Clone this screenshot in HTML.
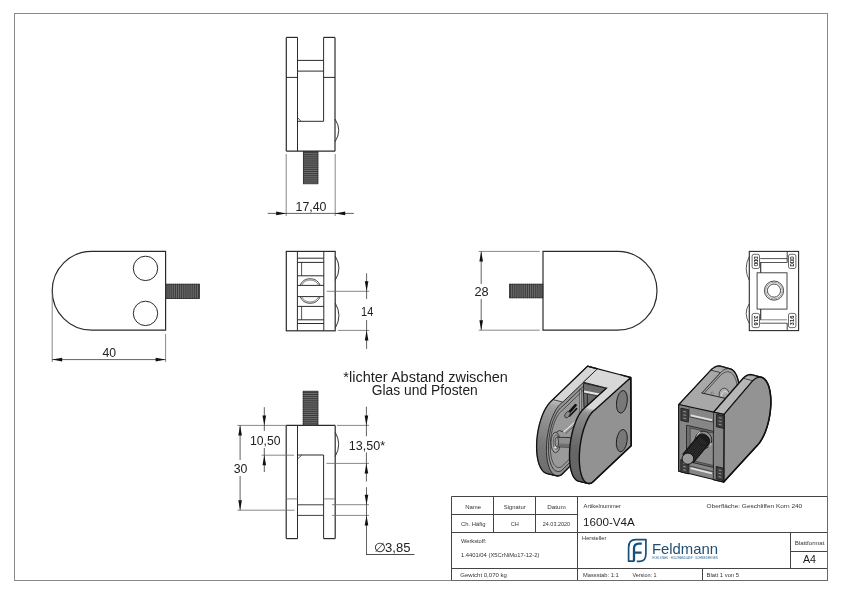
<!DOCTYPE html>
<html><head><meta charset="utf-8"><style>
html,body{margin:0;padding:0;background:#fff;width:842px;height:595px;overflow:hidden}
svg{display:block;will-change:transform}
text{font-family:"Liberation Sans",sans-serif}
</style></head><body>
<svg width="842" height="595" viewBox="0 0 842 595">
<rect x="14.5" y="13.5" width="813" height="567" fill="none" stroke="#8a8a8a" stroke-width="1"/>
<line x1="286.3" y1="37.4" x2="286.3" y2="151.2" stroke="#2a2a2a" stroke-width="1.2" />
<line x1="335.0" y1="37.4" x2="335.0" y2="151.2" stroke="#2a2a2a" stroke-width="1.2" />
<line x1="297.5" y1="37.4" x2="297.5" y2="151.2" stroke="#2a2a2a" stroke-width="1.0" />
<line x1="323.6" y1="37.4" x2="323.6" y2="121.3" stroke="#2a2a2a" stroke-width="1.0" />
<line x1="286.3" y1="37.4" x2="297.5" y2="37.4" stroke="#2a2a2a" stroke-width="1.2" />
<line x1="323.6" y1="37.4" x2="335.0" y2="37.4" stroke="#2a2a2a" stroke-width="1.2" />
<line x1="297.5" y1="60.4" x2="323.6" y2="60.4" stroke="#2a2a2a" stroke-width="1.0" />
<line x1="297.5" y1="71.1" x2="323.6" y2="71.1" stroke="#2a2a2a" stroke-width="1.0" />
<line x1="286.3" y1="77.4" x2="297.5" y2="77.4" stroke="#2a2a2a" stroke-width="1.0" />
<line x1="323.6" y1="77.4" x2="335.0" y2="77.4" stroke="#2a2a2a" stroke-width="1.0" />
<line x1="297.5" y1="121.3" x2="323.6" y2="121.3" stroke="#2a2a2a" stroke-width="1.0" />
<line x1="297.5" y1="117.5" x2="301.0" y2="121.3" stroke="#2a2a2a" stroke-width="0.8" />
<line x1="286.3" y1="151.2" x2="335.0" y2="151.2" stroke="#2a2a2a" stroke-width="1.2" />
<path d="M335.0,119 Q342.5,130.4 335.0,141.8" fill="none" stroke="#333" stroke-width="1.0" />
<rect x="303.4" y="151.4" width="14.5" height="32.400000000000006" fill="#6c6c6c" stroke="#2a2a2a" stroke-width="0.8"/>
<line x1="302.9" y1="152.6" x2="318.4" y2="152.6" stroke="#262626" stroke-width="0.7" />
<line x1="302.9" y1="154.7" x2="318.4" y2="154.7" stroke="#262626" stroke-width="0.7" />
<line x1="302.9" y1="156.8" x2="318.4" y2="156.8" stroke="#262626" stroke-width="0.7" />
<line x1="302.9" y1="158.9" x2="318.4" y2="158.9" stroke="#262626" stroke-width="0.7" />
<line x1="302.9" y1="161.0" x2="318.4" y2="161.0" stroke="#262626" stroke-width="0.7" />
<line x1="302.9" y1="163.1" x2="318.4" y2="163.1" stroke="#262626" stroke-width="0.7" />
<line x1="302.9" y1="165.2" x2="318.4" y2="165.2" stroke="#262626" stroke-width="0.7" />
<line x1="302.9" y1="167.3" x2="318.4" y2="167.3" stroke="#262626" stroke-width="0.7" />
<line x1="302.9" y1="169.4" x2="318.4" y2="169.4" stroke="#262626" stroke-width="0.7" />
<line x1="302.9" y1="171.5" x2="318.4" y2="171.5" stroke="#262626" stroke-width="0.7" />
<line x1="302.9" y1="173.6" x2="318.4" y2="173.6" stroke="#262626" stroke-width="0.7" />
<line x1="302.9" y1="175.7" x2="318.4" y2="175.7" stroke="#262626" stroke-width="0.7" />
<line x1="302.9" y1="177.8" x2="318.4" y2="177.8" stroke="#262626" stroke-width="0.7" />
<line x1="302.9" y1="179.9" x2="318.4" y2="179.9" stroke="#262626" stroke-width="0.7" />
<line x1="302.9" y1="182.0" x2="318.4" y2="182.0" stroke="#262626" stroke-width="0.7" />
<line x1="286.2" y1="154" x2="286.2" y2="216" stroke="#6a6a6a" stroke-width="0.8" />
<line x1="335.2" y1="154" x2="335.2" y2="216" stroke="#6a6a6a" stroke-width="0.8" />
<line x1="267.7" y1="213.4" x2="353.8" y2="213.4" stroke="#3a3a3a" stroke-width="0.8" />
<polygon points="286.20,213.40 276.20,211.60 276.20,215.20" fill="#111" stroke="none" stroke-width="0"/>
<polygon points="335.20,213.40 345.20,211.60 345.20,215.20" fill="#111" stroke="none" stroke-width="0"/>
<text x="311" y="211" font-size="13" text-anchor="middle" fill="#222" textLength="31" lengthAdjust="spacingAndGlyphs" >17,40</text>
<path d="M91.6,251.4 L165.6,251.4 L165.6,330.2 L91.6,330.2 A39.4,39.4 0 0 1 91.6,251.4 Z" fill="none" stroke="#2a2a2a" stroke-width="1.2" />
<circle cx="145.5" cy="268.4" r="12.2" fill="none" stroke="#2a2a2a" stroke-width="1"/>
<circle cx="145.5" cy="313.4" r="12.2" fill="none" stroke="#2a2a2a" stroke-width="1"/>
<rect x="165.8" y="284.2" width="33.69999999999999" height="14.300000000000011" fill="#6c6c6c" stroke="#2a2a2a" stroke-width="0.8"/>
<line x1="167.0" y1="283.7" x2="167.0" y2="299.0" stroke="#262626" stroke-width="0.7" />
<line x1="169.1" y1="283.7" x2="169.1" y2="299.0" stroke="#262626" stroke-width="0.7" />
<line x1="171.2" y1="283.7" x2="171.2" y2="299.0" stroke="#262626" stroke-width="0.7" />
<line x1="173.3" y1="283.7" x2="173.3" y2="299.0" stroke="#262626" stroke-width="0.7" />
<line x1="175.4" y1="283.7" x2="175.4" y2="299.0" stroke="#262626" stroke-width="0.7" />
<line x1="177.5" y1="283.7" x2="177.5" y2="299.0" stroke="#262626" stroke-width="0.7" />
<line x1="179.6" y1="283.7" x2="179.6" y2="299.0" stroke="#262626" stroke-width="0.7" />
<line x1="181.7" y1="283.7" x2="181.7" y2="299.0" stroke="#262626" stroke-width="0.7" />
<line x1="183.8" y1="283.7" x2="183.8" y2="299.0" stroke="#262626" stroke-width="0.7" />
<line x1="185.9" y1="283.7" x2="185.9" y2="299.0" stroke="#262626" stroke-width="0.7" />
<line x1="188.0" y1="283.7" x2="188.0" y2="299.0" stroke="#262626" stroke-width="0.7" />
<line x1="190.1" y1="283.7" x2="190.1" y2="299.0" stroke="#262626" stroke-width="0.7" />
<line x1="192.2" y1="283.7" x2="192.2" y2="299.0" stroke="#262626" stroke-width="0.7" />
<line x1="194.3" y1="283.7" x2="194.3" y2="299.0" stroke="#262626" stroke-width="0.7" />
<line x1="196.4" y1="283.7" x2="196.4" y2="299.0" stroke="#262626" stroke-width="0.7" />
<line x1="198.5" y1="283.7" x2="198.5" y2="299.0" stroke="#262626" stroke-width="0.7" />
<line x1="52.2" y1="293" x2="52.2" y2="362" stroke="#6a6a6a" stroke-width="0.8" />
<line x1="165.6" y1="334" x2="165.6" y2="362" stroke="#6a6a6a" stroke-width="0.8" />
<line x1="52.2" y1="359.6" x2="165.6" y2="359.6" stroke="#3a3a3a" stroke-width="0.8" />
<polygon points="52.20,359.60 62.20,357.80 62.20,361.40" fill="#111" stroke="none" stroke-width="0"/>
<polygon points="165.60,359.60 155.60,357.80 155.60,361.40" fill="#111" stroke="none" stroke-width="0"/>
<text x="109.2" y="356.6" font-size="12.5" text-anchor="middle" fill="#222" textLength="13.6" lengthAdjust="spacingAndGlyphs" >40</text>
<rect x="286.3" y="251.4" width="48.89999999999998" height="79.4" fill="none" stroke="#2a2a2a" stroke-width="1.2"/>
<line x1="297.4" y1="251.4" x2="297.4" y2="330.8" stroke="#2a2a2a" stroke-width="1.0" />
<line x1="323.8" y1="251.4" x2="323.8" y2="330.8" stroke="#2a2a2a" stroke-width="1.0" />
<line x1="297.4" y1="258.2" x2="323.8" y2="258.2" stroke="#2a2a2a" stroke-width="1.0" />
<line x1="297.4" y1="262.4" x2="323.8" y2="262.4" stroke="#2a2a2a" stroke-width="1.0" />
<line x1="297.4" y1="275.8" x2="323.8" y2="275.8" stroke="#2a2a2a" stroke-width="1.0" />
<line x1="297.4" y1="285.4" x2="323.8" y2="285.4" stroke="#2a2a2a" stroke-width="1.0" />
<line x1="297.4" y1="296.6" x2="323.8" y2="296.6" stroke="#2a2a2a" stroke-width="1.0" />
<line x1="297.4" y1="306.4" x2="323.8" y2="306.4" stroke="#2a2a2a" stroke-width="1.0" />
<line x1="297.4" y1="319.8" x2="323.8" y2="319.8" stroke="#2a2a2a" stroke-width="1.0" />
<line x1="297.4" y1="323.5" x2="323.8" y2="323.5" stroke="#2a2a2a" stroke-width="1.0" />
<line x1="301.6" y1="262.4" x2="301.6" y2="275.8" stroke="#2a2a2a" stroke-width="0.8" />
<line x1="301.6" y1="306.4" x2="301.6" y2="319.8" stroke="#2a2a2a" stroke-width="0.8" />
<path d="M300.1,285.4 A10.9,10.9 0 0 1 320.2,285.4" fill="none" stroke="#333" stroke-width="0.9"/>
<path d="M301.6,285.4 A9.5,9.5 0 0 1 318.7,285.4" fill="none" stroke="#555" stroke-width="0.7"/>
<path d="M300.1,296.6 A10.9,10.9 0 0 0 320.2,296.6" fill="none" stroke="#333" stroke-width="0.9"/>
<path d="M301.6,296.6 A9.5,9.5 0 0 0 318.7,296.6" fill="none" stroke="#555" stroke-width="0.7"/>
<path d="M335.2,256 Q342.7,268 335.2,280.3" fill="none" stroke="#333" stroke-width="1.0" />
<path d="M335.2,303 Q342.7,315.6 335.2,328.2" fill="none" stroke="#333" stroke-width="1.0" />
<line x1="326.8" y1="291.3" x2="369.2" y2="291.3" stroke="#6a6a6a" stroke-width="0.8" />
<line x1="337.9" y1="330.4" x2="369.2" y2="330.4" stroke="#6a6a6a" stroke-width="0.8" />
<line x1="366.6" y1="273.3" x2="366.6" y2="299" stroke="#3a3a3a" stroke-width="0.8" />
<line x1="366.6" y1="320" x2="366.6" y2="349" stroke="#3a3a3a" stroke-width="0.8" />
<polygon points="366.60,291.30 364.80,281.30 368.40,281.30" fill="#111" stroke="none" stroke-width="0"/>
<polygon points="366.60,330.40 364.80,340.40 368.40,340.40" fill="#111" stroke="none" stroke-width="0"/>
<text x="367.2" y="316" font-size="12.5" text-anchor="middle" fill="#222" textLength="12.2" lengthAdjust="spacingAndGlyphs" >14</text>
<path d="M543,251.4 L617.6,251.4 A39.4,39.4 0 0 1 617.6,330.2 L543,330.2 Z" fill="none" stroke="#2a2a2a" stroke-width="1.2" />
<rect x="509.4" y="284.2" width="33.39999999999998" height="13.600000000000023" fill="#6c6c6c" stroke="#2a2a2a" stroke-width="0.8"/>
<line x1="510.6" y1="283.7" x2="510.6" y2="298.3" stroke="#262626" stroke-width="0.7" />
<line x1="512.7" y1="283.7" x2="512.7" y2="298.3" stroke="#262626" stroke-width="0.7" />
<line x1="514.8" y1="283.7" x2="514.8" y2="298.3" stroke="#262626" stroke-width="0.7" />
<line x1="516.9" y1="283.7" x2="516.9" y2="298.3" stroke="#262626" stroke-width="0.7" />
<line x1="519.0" y1="283.7" x2="519.0" y2="298.3" stroke="#262626" stroke-width="0.7" />
<line x1="521.1" y1="283.7" x2="521.1" y2="298.3" stroke="#262626" stroke-width="0.7" />
<line x1="523.2" y1="283.7" x2="523.2" y2="298.3" stroke="#262626" stroke-width="0.7" />
<line x1="525.3" y1="283.7" x2="525.3" y2="298.3" stroke="#262626" stroke-width="0.7" />
<line x1="527.4" y1="283.7" x2="527.4" y2="298.3" stroke="#262626" stroke-width="0.7" />
<line x1="529.5" y1="283.7" x2="529.5" y2="298.3" stroke="#262626" stroke-width="0.7" />
<line x1="531.6" y1="283.7" x2="531.6" y2="298.3" stroke="#262626" stroke-width="0.7" />
<line x1="533.7" y1="283.7" x2="533.7" y2="298.3" stroke="#262626" stroke-width="0.7" />
<line x1="535.8" y1="283.7" x2="535.8" y2="298.3" stroke="#262626" stroke-width="0.7" />
<line x1="537.9" y1="283.7" x2="537.9" y2="298.3" stroke="#262626" stroke-width="0.7" />
<line x1="540.0" y1="283.7" x2="540.0" y2="298.3" stroke="#262626" stroke-width="0.7" />
<line x1="542.1" y1="283.7" x2="542.1" y2="298.3" stroke="#262626" stroke-width="0.7" />
<line x1="478.7" y1="251.4" x2="539.8" y2="251.4" stroke="#6a6a6a" stroke-width="0.8" />
<line x1="478.7" y1="330.2" x2="539.8" y2="330.2" stroke="#6a6a6a" stroke-width="0.8" />
<line x1="481.2" y1="251.4" x2="481.2" y2="284" stroke="#3a3a3a" stroke-width="0.8" />
<line x1="481.2" y1="299" x2="481.2" y2="330.2" stroke="#3a3a3a" stroke-width="0.8" />
<polygon points="481.20,251.40 479.40,261.40 483.00,261.40" fill="#111" stroke="none" stroke-width="0"/>
<polygon points="481.20,330.20 479.40,320.20 483.00,320.20" fill="#111" stroke="none" stroke-width="0"/>
<text x="481.6" y="296.1" font-size="12.5" text-anchor="middle" fill="#222" textLength="14.2" lengthAdjust="spacingAndGlyphs" >28</text>
<rect x="749.3" y="251.4" width="49.30000000000007" height="79.20000000000002" fill="none" stroke="#2a2a2a" stroke-width="1.1"/>
<path d="M749.3,256.4 Q743.0999999999999,268.4 749.3,280.4" fill="none" stroke="#444" stroke-width="0.9" />
<path d="M749.3,303.6 Q743.0999999999999,313.4 749.3,323.4" fill="none" stroke="#444" stroke-width="0.9" />
<rect x="752.1" y="254.3" width="7.4" height="14.2" rx="1.8" fill="none" stroke="#444" stroke-width="0.8"/>
<text x="0" y="0" font-size="5.6" font-weight="bold" fill="#1a1a1a" text-anchor="middle" textLength="10" lengthAdjust="spacingAndGlyphs" transform="translate(753.8000000000001,261.40000000000003) rotate(90)">DDD</text>
<rect x="788.5" y="254.3" width="7.4" height="14.2" rx="1.8" fill="none" stroke="#444" stroke-width="0.8"/>
<text x="0" y="0" font-size="5.6" font-weight="bold" fill="#1a1a1a" text-anchor="middle" textLength="10" lengthAdjust="spacingAndGlyphs" transform="translate(794.2,261.40000000000003) rotate(-90)">DDD</text>
<rect x="752.1" y="313.4" width="7.4" height="14.2" rx="1.8" fill="none" stroke="#444" stroke-width="0.8"/>
<text x="0" y="0" font-size="5.6" font-weight="bold" fill="#1a1a1a" text-anchor="middle" textLength="10" lengthAdjust="spacingAndGlyphs" transform="translate(753.8000000000001,320.5) rotate(90)">316</text>
<rect x="788.5" y="313.4" width="7.4" height="14.2" rx="1.8" fill="none" stroke="#444" stroke-width="0.8"/>
<text x="0" y="0" font-size="5.6" font-weight="bold" fill="#1a1a1a" text-anchor="middle" textLength="10" lengthAdjust="spacingAndGlyphs" transform="translate(794.2,320.5) rotate(-90)">316</text>
<line x1="760.2" y1="258.6" x2="787.2" y2="258.6" stroke="#2a2a2a" stroke-width="0.8" />
<line x1="760.2" y1="262.5" x2="787.2" y2="262.5" stroke="#2a2a2a" stroke-width="0.8" />
<line x1="760.2" y1="319.8" x2="787.2" y2="319.8" stroke="#666" stroke-width="0.8" />
<line x1="760.2" y1="323.2" x2="787.2" y2="323.2" stroke="#2a2a2a" stroke-width="0.8" />
<line x1="787.2" y1="251.4" x2="787.2" y2="262.5" stroke="#2a2a2a" stroke-width="0.9" />
<line x1="787.2" y1="323.2" x2="787.2" y2="330.6" stroke="#2a2a2a" stroke-width="0.9" />
<line x1="760.7" y1="262.5" x2="760.7" y2="272.8" stroke="#2a2a2a" stroke-width="1.1" />
<line x1="760.7" y1="309.1" x2="760.7" y2="319.8" stroke="#2a2a2a" stroke-width="1.1" />
<rect x="757.1" y="272.8" width="29.9" height="36.3" fill="none" stroke="#333" stroke-width="0.9"/>
<circle cx="774" cy="290.6" r="9.6" fill="none" stroke="#333" stroke-width="0.9"/>
<circle cx="774" cy="290.6" r="8.3" fill="none" stroke="#777" stroke-width="0.7"/>
<circle cx="774" cy="290.6" r="6.6" fill="none" stroke="#333" stroke-width="0.9"/>
<text x="425.6" y="381.7" font-size="14" text-anchor="middle" fill="#222" textLength="164.5" lengthAdjust="spacingAndGlyphs" >*lichter Abstand zwischen</text>
<text x="424.8" y="395.1" font-size="14" text-anchor="middle" fill="#222" textLength="106" lengthAdjust="spacingAndGlyphs" >Glas und Pfosten</text>
<line x1="286.2" y1="425.4" x2="335.2" y2="425.4" stroke="#2a2a2a" stroke-width="1.2" />
<line x1="286.2" y1="425.4" x2="286.2" y2="538.6" stroke="#2a2a2a" stroke-width="1.2" />
<line x1="335.2" y1="425.4" x2="335.2" y2="538.6" stroke="#2a2a2a" stroke-width="1.2" />
<line x1="297.5" y1="425.4" x2="297.5" y2="538.6" stroke="#2a2a2a" stroke-width="1.0" />
<line x1="323.6" y1="455.0" x2="323.6" y2="538.6" stroke="#2a2a2a" stroke-width="1.0" />
<line x1="297.5" y1="455.0" x2="323.6" y2="455.0" stroke="#2a2a2a" stroke-width="1.0" />
<line x1="297.5" y1="459.0" x2="301.8" y2="455.0" stroke="#2a2a2a" stroke-width="0.8" />
<line x1="286.2" y1="538.6" x2="297.5" y2="538.6" stroke="#2a2a2a" stroke-width="1.2" />
<line x1="323.6" y1="538.6" x2="335.2" y2="538.6" stroke="#2a2a2a" stroke-width="1.2" />
<line x1="286.2" y1="498.9" x2="297.5" y2="498.9" stroke="#777" stroke-width="0.9" />
<line x1="323.6" y1="498.9" x2="335.2" y2="498.9" stroke="#777" stroke-width="0.9" />
<line x1="297.5" y1="504.8" x2="323.6" y2="504.8" stroke="#2a2a2a" stroke-width="0.9" />
<line x1="297.5" y1="515.4" x2="323.6" y2="515.4" stroke="#2a2a2a" stroke-width="0.9" />
<path d="M335.2,432.2 Q342.2,444.3 335.2,456.4" fill="none" stroke="#333" stroke-width="1.0" />
<rect x="303.2" y="391.2" width="14.699999999999989" height="34.0" fill="#6c6c6c" stroke="#2a2a2a" stroke-width="0.8"/>
<line x1="302.7" y1="392.4" x2="318.4" y2="392.4" stroke="#262626" stroke-width="0.7" />
<line x1="302.7" y1="394.5" x2="318.4" y2="394.5" stroke="#262626" stroke-width="0.7" />
<line x1="302.7" y1="396.6" x2="318.4" y2="396.6" stroke="#262626" stroke-width="0.7" />
<line x1="302.7" y1="398.7" x2="318.4" y2="398.7" stroke="#262626" stroke-width="0.7" />
<line x1="302.7" y1="400.8" x2="318.4" y2="400.8" stroke="#262626" stroke-width="0.7" />
<line x1="302.7" y1="402.9" x2="318.4" y2="402.9" stroke="#262626" stroke-width="0.7" />
<line x1="302.7" y1="405.0" x2="318.4" y2="405.0" stroke="#262626" stroke-width="0.7" />
<line x1="302.7" y1="407.1" x2="318.4" y2="407.1" stroke="#262626" stroke-width="0.7" />
<line x1="302.7" y1="409.2" x2="318.4" y2="409.2" stroke="#262626" stroke-width="0.7" />
<line x1="302.7" y1="411.3" x2="318.4" y2="411.3" stroke="#262626" stroke-width="0.7" />
<line x1="302.7" y1="413.4" x2="318.4" y2="413.4" stroke="#262626" stroke-width="0.7" />
<line x1="302.7" y1="415.5" x2="318.4" y2="415.5" stroke="#262626" stroke-width="0.7" />
<line x1="302.7" y1="417.6" x2="318.4" y2="417.6" stroke="#262626" stroke-width="0.7" />
<line x1="302.7" y1="419.7" x2="318.4" y2="419.7" stroke="#262626" stroke-width="0.7" />
<line x1="302.7" y1="421.8" x2="318.4" y2="421.8" stroke="#262626" stroke-width="0.7" />
<line x1="302.7" y1="423.9" x2="318.4" y2="423.9" stroke="#262626" stroke-width="0.7" />
<line x1="237.4" y1="425.4" x2="286" y2="425.4" stroke="#6a6a6a" stroke-width="0.8" />
<line x1="237.4" y1="510.2" x2="294.5" y2="510.2" stroke="#6a6a6a" stroke-width="0.8" />
<line x1="240.1" y1="425.4" x2="240.1" y2="460" stroke="#3a3a3a" stroke-width="0.8" />
<line x1="240.1" y1="476" x2="240.1" y2="510.2" stroke="#3a3a3a" stroke-width="0.8" />
<polygon points="240.10,425.40 238.30,435.40 241.90,435.40" fill="#111" stroke="none" stroke-width="0"/>
<polygon points="240.10,510.20 238.30,500.20 241.90,500.20" fill="#111" stroke="none" stroke-width="0"/>
<text x="240.6" y="472.6" font-size="12.5" text-anchor="middle" fill="#222" textLength="13.7" lengthAdjust="spacingAndGlyphs" >30</text>
<line x1="261.6" y1="455.2" x2="294.0" y2="455.2" stroke="#6a6a6a" stroke-width="0.8" />
<line x1="264.3" y1="407.2" x2="264.3" y2="431" stroke="#3a3a3a" stroke-width="0.8" />
<line x1="264.3" y1="448" x2="264.3" y2="472" stroke="#3a3a3a" stroke-width="0.8" />
<polygon points="264.30,425.40 262.50,415.40 266.10,415.40" fill="#111" stroke="none" stroke-width="0"/>
<polygon points="264.30,455.20 262.50,465.20 266.10,465.20" fill="#111" stroke="none" stroke-width="0"/>
<text x="265.2" y="444.6" font-size="12.5" text-anchor="middle" fill="#222" textLength="30.5" lengthAdjust="spacingAndGlyphs" >10,50</text>
<line x1="337" y1="425.4" x2="369" y2="425.4" stroke="#6a6a6a" stroke-width="0.8" />
<line x1="326.4" y1="463.4" x2="369" y2="463.4" stroke="#6a6a6a" stroke-width="0.8" />
<line x1="366.4" y1="406.7" x2="366.4" y2="436.3" stroke="#3a3a3a" stroke-width="0.8" />
<line x1="366.4" y1="452.4" x2="366.4" y2="481.5" stroke="#3a3a3a" stroke-width="0.8" />
<polygon points="366.40,425.40 364.60,415.40 368.20,415.40" fill="#111" stroke="none" stroke-width="0"/>
<polygon points="366.40,463.40 364.60,473.40 368.20,473.40" fill="#111" stroke="none" stroke-width="0"/>
<text x="367.0" y="450.0" font-size="12.5" text-anchor="middle" fill="#222" textLength="36.3" lengthAdjust="spacingAndGlyphs" >13,50*</text>
<line x1="332" y1="504.7" x2="369" y2="504.7" stroke="#6a6a6a" stroke-width="0.8" />
<line x1="332" y1="515.4" x2="369" y2="515.4" stroke="#6a6a6a" stroke-width="0.8" />
<line x1="366.5" y1="487.2" x2="366.5" y2="554.9" stroke="#3a3a3a" stroke-width="0.8" />
<line x1="366.1" y1="554.5" x2="414.5" y2="554.5" stroke="#3a3a3a" stroke-width="0.9" />
<polygon points="366.50,504.70 364.70,494.70 368.30,494.70" fill="#111" stroke="none" stroke-width="0"/>
<polygon points="366.50,515.40 364.70,525.40 368.30,525.40" fill="#111" stroke="none" stroke-width="0"/>
<text x="392" y="551.8" font-size="12.5" text-anchor="middle" fill="#222" textLength="37" lengthAdjust="spacingAndGlyphs" >&#8709;3,85</text>
<polygon points="562.79,402.01 562.10,402.47 552.46,400.16 553.17,399.69" fill="#c1c1c1" stroke="#c1c1c1" stroke-width="0.9" stroke-linejoin="round"/>
<polygon points="562.10,402.47 561.41,403.00 551.76,400.70 552.46,400.16" fill="#bdbdbd" stroke="#bdbdbd" stroke-width="0.9" stroke-linejoin="round"/>
<polygon points="561.41,403.00 560.72,403.60 551.05,401.31 551.76,400.70" fill="#b9b9b9" stroke="#b9b9b9" stroke-width="0.9" stroke-linejoin="round"/>
<polygon points="560.72,403.60 560.04,404.26 550.34,401.99 551.05,401.31" fill="#b5b5b5" stroke="#b5b5b5" stroke-width="0.9" stroke-linejoin="round"/>
<polygon points="560.04,404.26 559.35,404.99 549.65,402.72 550.34,401.99" fill="#b1b1b1" stroke="#b1b1b1" stroke-width="0.9" stroke-linejoin="round"/>
<polygon points="559.35,404.99 558.68,405.78 548.95,403.53 549.65,402.72" fill="#adadad" stroke="#adadad" stroke-width="0.9" stroke-linejoin="round"/>
<polygon points="558.68,405.78 558.01,406.63 548.27,404.39 548.95,403.53" fill="#a9a9a9" stroke="#a9a9a9" stroke-width="0.9" stroke-linejoin="round"/>
<polygon points="558.01,406.63 557.35,407.54 547.59,405.31 548.27,404.39" fill="#a5a5a5" stroke="#a5a5a5" stroke-width="0.9" stroke-linejoin="round"/>
<polygon points="557.35,407.54 556.70,408.51 546.93,406.30 547.59,405.31" fill="#a1a1a1" stroke="#a1a1a1" stroke-width="0.9" stroke-linejoin="round"/>
<polygon points="556.70,408.51 556.06,409.54 546.27,407.33 546.93,406.30" fill="#9f9f9f" stroke="#9f9f9f" stroke-width="0.9" stroke-linejoin="round"/>
<polygon points="556.06,409.54 555.43,410.62 545.63,408.43 546.27,407.33" fill="#9d9d9d" stroke="#9d9d9d" stroke-width="0.9" stroke-linejoin="round"/>
<polygon points="555.43,410.62 554.81,411.76 545.00,409.57 545.63,408.43" fill="#9c9c9c" stroke="#9c9c9c" stroke-width="0.9" stroke-linejoin="round"/>
<polygon points="554.81,411.76 554.21,412.94 544.39,410.77 545.00,409.57" fill="#9a9a9a" stroke="#9a9a9a" stroke-width="0.9" stroke-linejoin="round"/>
<polygon points="554.21,412.94 553.62,414.18 543.79,412.01 544.39,410.77" fill="#999999" stroke="#999999" stroke-width="0.9" stroke-linejoin="round"/>
<polygon points="553.62,414.18 553.05,415.46 543.21,413.30 543.79,412.01" fill="#979797" stroke="#979797" stroke-width="0.9" stroke-linejoin="round"/>
<polygon points="553.05,415.46 552.50,416.78 542.65,414.63 543.21,413.30" fill="#959595" stroke="#959595" stroke-width="0.9" stroke-linejoin="round"/>
<polygon points="552.50,416.78 551.96,418.14 542.10,416.01 542.65,414.63" fill="#949494" stroke="#949494" stroke-width="0.9" stroke-linejoin="round"/>
<polygon points="551.96,418.14 551.45,419.55 541.58,417.42 542.10,416.01" fill="#929292" stroke="#929292" stroke-width="0.9" stroke-linejoin="round"/>
<polygon points="551.45,419.55 550.96,420.98 541.08,418.86 541.58,417.42" fill="#919191" stroke="#919191" stroke-width="0.9" stroke-linejoin="round"/>
<polygon points="550.96,420.98 550.48,422.46 540.60,420.34 541.08,418.86" fill="#8f8f8f" stroke="#8f8f8f" stroke-width="0.9" stroke-linejoin="round"/>
<polygon points="550.48,422.46 550.03,423.96 540.15,421.85 540.60,420.34" fill="#8e8e8e" stroke="#8e8e8e" stroke-width="0.9" stroke-linejoin="round"/>
<polygon points="550.03,423.96 549.60,425.49 539.72,423.38 540.15,421.85" fill="#8c8c8c" stroke="#8c8c8c" stroke-width="0.9" stroke-linejoin="round"/>
<polygon points="549.60,425.49 549.20,427.04 539.31,424.94 539.72,423.38" fill="#8b8b8b" stroke="#8b8b8b" stroke-width="0.9" stroke-linejoin="round"/>
<polygon points="549.20,427.04 548.82,428.61 538.93,426.52 539.31,424.94" fill="#898989" stroke="#898989" stroke-width="0.9" stroke-linejoin="round"/>
<polygon points="548.82,428.61 548.47,430.21 538.58,428.12 538.93,426.52" fill="#888888" stroke="#888888" stroke-width="0.9" stroke-linejoin="round"/>
<polygon points="548.47,430.21 548.14,431.81 538.25,429.73 538.58,428.12" fill="#868686" stroke="#868686" stroke-width="0.9" stroke-linejoin="round"/>
<polygon points="548.14,431.81 547.84,433.43 537.96,431.36 538.25,429.73" fill="#858585" stroke="#858585" stroke-width="0.9" stroke-linejoin="round"/>
<polygon points="547.84,433.43 547.57,435.06 537.69,432.99 537.96,431.36" fill="#838383" stroke="#838383" stroke-width="0.9" stroke-linejoin="round"/>
<polygon points="547.57,435.06 547.33,436.70 537.45,434.63 537.69,432.99" fill="#828282" stroke="#828282" stroke-width="0.9" stroke-linejoin="round"/>
<polygon points="547.33,436.70 547.11,438.34 537.23,436.27 537.45,434.63" fill="#808080" stroke="#808080" stroke-width="0.9" stroke-linejoin="round"/>
<polygon points="547.11,438.34 546.93,439.98 537.05,437.91 537.23,436.27" fill="#7e7e7e" stroke="#7e7e7e" stroke-width="0.9" stroke-linejoin="round"/>
<polygon points="546.93,439.98 546.77,441.61 536.90,439.55 537.05,437.91" fill="#7d7d7d" stroke="#7d7d7d" stroke-width="0.9" stroke-linejoin="round"/>
<polygon points="546.77,441.61 546.64,443.24 536.78,441.18 536.90,439.55" fill="#7b7b7b" stroke="#7b7b7b" stroke-width="0.9" stroke-linejoin="round"/>
<polygon points="546.64,443.24 546.54,444.86 536.69,442.80 536.78,441.18" fill="#7a7a7a" stroke="#7a7a7a" stroke-width="0.9" stroke-linejoin="round"/>
<polygon points="546.54,444.86 546.47,446.47 536.63,444.41 536.69,442.80" fill="#787878" stroke="#787878" stroke-width="0.9" stroke-linejoin="round"/>
<polygon points="546.47,446.47 546.43,448.06 536.60,446.00 536.63,444.41" fill="#777777" stroke="#777777" stroke-width="0.9" stroke-linejoin="round"/>
<polygon points="546.43,448.06 546.42,449.64 536.60,447.57 536.60,446.00" fill="#767676" stroke="#767676" stroke-width="0.9" stroke-linejoin="round"/>
<polygon points="546.42,449.64 546.44,451.19 536.64,449.12 536.60,447.57" fill="#757575" stroke="#757575" stroke-width="0.9" stroke-linejoin="round"/>
<polygon points="546.44,451.19 546.50,452.71 536.70,450.65 536.64,449.12" fill="#757575" stroke="#757575" stroke-width="0.9" stroke-linejoin="round"/>
<polygon points="546.50,452.71 546.58,454.21 536.79,452.15 536.70,450.65" fill="#747474" stroke="#747474" stroke-width="0.9" stroke-linejoin="round"/>
<polygon points="546.58,454.21 546.69,455.68 536.92,453.61 536.79,452.15" fill="#747474" stroke="#747474" stroke-width="0.9" stroke-linejoin="round"/>
<polygon points="546.69,455.68 546.83,457.12 537.08,455.04 536.92,453.61" fill="#737373" stroke="#737373" stroke-width="0.9" stroke-linejoin="round"/>
<polygon points="546.83,457.12 547.00,458.52 537.26,456.44 537.08,455.04" fill="#737373" stroke="#737373" stroke-width="0.9" stroke-linejoin="round"/>
<polygon points="547.00,458.52 547.20,459.88 537.48,457.80 537.26,456.44" fill="#727272" stroke="#727272" stroke-width="0.9" stroke-linejoin="round"/>
<polygon points="547.20,459.88 547.43,461.20 537.72,459.11 537.48,457.80" fill="#727272" stroke="#727272" stroke-width="0.9" stroke-linejoin="round"/>
<polygon points="547.43,461.20 547.68,462.48 538.00,460.38 537.72,459.11" fill="#717171" stroke="#717171" stroke-width="0.9" stroke-linejoin="round"/>
<polygon points="547.68,462.48 547.97,463.71 538.30,461.61 538.00,460.38" fill="#717171" stroke="#717171" stroke-width="0.9" stroke-linejoin="round"/>
<polygon points="547.97,463.71 548.28,464.90 538.63,462.79 538.30,461.61" fill="#707070" stroke="#707070" stroke-width="0.9" stroke-linejoin="round"/>
<polygon points="548.28,464.90 548.62,466.03 538.98,463.91 538.63,462.79" fill="#707070" stroke="#707070" stroke-width="0.9" stroke-linejoin="round"/>
<polygon points="548.62,466.03 548.98,467.11 539.37,464.98 538.98,463.91" fill="#6f6f6f" stroke="#6f6f6f" stroke-width="0.9" stroke-linejoin="round"/>
<polygon points="548.98,467.11 549.37,468.13 539.78,466.00 539.37,464.98" fill="#6f6f6f" stroke="#6f6f6f" stroke-width="0.9" stroke-linejoin="round"/>
<polygon points="549.37,468.13 549.78,469.10 540.21,466.96 539.78,466.00" fill="#6e6e6e" stroke="#6e6e6e" stroke-width="0.9" stroke-linejoin="round"/>
<polygon points="549.78,469.10 550.22,470.01 540.67,467.86 540.21,466.96" fill="#6e6e6e" stroke="#6e6e6e" stroke-width="0.9" stroke-linejoin="round"/>
<polygon points="550.22,470.01 550.68,470.86 541.15,468.70 540.67,467.86" fill="#6d6d6d" stroke="#6d6d6d" stroke-width="0.9" stroke-linejoin="round"/>
<polygon points="550.68,470.86 551.16,471.65 541.65,469.48 541.15,468.70" fill="#6d6d6d" stroke="#6d6d6d" stroke-width="0.9" stroke-linejoin="round"/>
<polygon points="551.16,471.65 551.66,472.37 542.18,470.19 541.65,469.48" fill="#6c6c6c" stroke="#6c6c6c" stroke-width="0.9" stroke-linejoin="round"/>
<polygon points="551.66,472.37 552.18,473.03 542.72,470.84 542.18,470.19" fill="#6c6c6c" stroke="#6c6c6c" stroke-width="0.9" stroke-linejoin="round"/>
<polygon points="552.18,473.03 552.73,473.62 543.29,471.42 542.72,470.84" fill="#6b6b6b" stroke="#6b6b6b" stroke-width="0.9" stroke-linejoin="round"/>
<polygon points="552.73,473.62 553.29,474.14 543.87,471.94 543.29,471.42" fill="#6b6b6b" stroke="#6b6b6b" stroke-width="0.9" stroke-linejoin="round"/>
<polygon points="553.29,474.14 553.86,474.60 544.47,472.38 543.87,471.94" fill="#6a6a6a" stroke="#6a6a6a" stroke-width="0.9" stroke-linejoin="round"/>
<polygon points="553.86,474.60 554.46,474.99 545.08,472.76 544.47,472.38" fill="#6a6a6a" stroke="#6a6a6a" stroke-width="0.9" stroke-linejoin="round"/>
<polygon points="554.46,474.99 555.07,475.31 545.72,473.06 545.08,472.76" fill="#696969" stroke="#696969" stroke-width="0.9" stroke-linejoin="round"/>
<polygon points="555.07,475.31 555.69,475.56 546.36,473.30 545.72,473.06" fill="#696969" stroke="#696969" stroke-width="0.9" stroke-linejoin="round"/>
<polygon points="555.69,475.56 556.32,475.73 547.02,473.47 546.36,473.30" fill="#686868" stroke="#686868" stroke-width="0.9" stroke-linejoin="round"/>
<polygon points="556.32,475.73 556.97,475.84 547.68,473.56 547.02,473.47" fill="#686868" stroke="#686868" stroke-width="0.9" stroke-linejoin="round"/>
<polygon points="556.97,475.84 557.62,475.87 548.36,473.58 547.68,473.56" fill="#676767" stroke="#676767" stroke-width="0.9" stroke-linejoin="round"/>
<polygon points="557.62,475.87 558.29,475.83 549.05,473.53 548.36,473.58" fill="#676767" stroke="#676767" stroke-width="0.9" stroke-linejoin="round"/>
<polygon points="558.29,475.83 558.96,475.72 549.74,473.41 549.05,473.53" fill="#666666" stroke="#666666" stroke-width="0.9" stroke-linejoin="round"/>
<polygon points="558.96,475.72 559.64,475.54 550.44,473.22 549.74,473.41" fill="#666666" stroke="#666666" stroke-width="0.9" stroke-linejoin="round"/>
<polygon points="559.64,475.54 560.32,475.29 551.15,472.95 550.44,473.22" fill="#656565" stroke="#656565" stroke-width="0.9" stroke-linejoin="round"/>
<polygon points="560.32,475.29 561.01,474.97 551.85,472.62 551.15,472.95" fill="#656565" stroke="#656565" stroke-width="0.9" stroke-linejoin="round"/>
<polygon points="561.01,474.97 561.70,474.58 552.56,472.22 551.85,472.62" fill="#646464" stroke="#646464" stroke-width="0.9" stroke-linejoin="round"/>
<polygon points="597.43,368.79 562.79,402.01 561.75,402.73 560.72,403.60 559.69,404.62 558.68,405.78 557.68,407.08 556.70,408.51 555.74,410.08 554.81,411.76 553.91,413.55 553.05,415.46 552.23,417.46 551.45,419.55 550.72,421.72 550.03,423.96 549.40,426.26 548.82,428.61 548.30,431.01 547.84,433.43 547.45,435.88 547.11,438.34 546.84,440.80 546.64,443.24 546.50,445.67 546.43,448.06 546.43,450.41 546.50,452.71 546.63,454.95 546.83,457.12 547.10,459.21 547.43,461.20 547.82,463.10 548.28,464.90 548.79,466.57 549.37,468.13 550.00,469.56 550.68,470.86 551.41,472.01 552.18,473.03 553.01,473.89 553.86,474.60 554.76,475.16 555.69,475.56 556.64,475.79 557.62,475.87 558.62,475.79 559.64,475.54 560.66,475.14 561.70,474.58 599.44,436.96" fill="#929292" stroke="#222" stroke-width="0.9" stroke-linejoin="round"/>
<polygon points="597.43,368.79 562.79,402.01 553.17,399.69 587.47,366.19" fill="#d6d6d6" stroke="#222" stroke-width="0.8" stroke-linejoin="round"/>
<polygon points="536.60,446.00 536.65,443.61 536.78,441.18 536.97,438.73 537.23,436.27 537.56,433.81 537.96,431.36 538.41,428.93 538.93,426.52 539.51,424.16 540.15,421.85 540.84,419.60 541.58,417.42 542.37,415.31 543.21,413.30 544.09,411.38 545.00,409.57 545.95,407.87 546.92,406.30 547.93,404.84 548.95,403.53 549.99,402.35 551.05,401.31 587.47,366.19 597.43,368.79 599.44,436.96 561.70,474.58 560.66,475.14 559.64,475.54 558.62,475.79 557.62,475.87 556.64,475.79 546.36,473.30 545.40,472.92 544.47,472.38 543.58,471.69 542.72,470.84 541.91,469.84 541.15,468.70 540.43,467.42 539.78,466.00 539.17,464.45 538.63,462.79 538.14,461.00 537.72,459.11 537.37,457.12 537.08,455.04 536.85,452.88 536.70,450.65 536.62,448.35" fill="none" stroke="#111" stroke-width="1.3" stroke-linejoin="round"/>
<polyline points="582.82,386.85 562.73,406.16 561.64,406.93 560.57,407.89 559.50,409.04 558.45,410.36 557.42,411.86 556.42,413.53 555.46,415.34 554.54,417.30 553.66,419.39 552.84,421.59 552.08,423.90 551.38,426.29 550.75,428.76 550.19,431.29 549.70,433.86 549.29,436.46 548.96,439.07 548.71,441.68 548.55,444.26 548.47,446.81 548.47,449.30 548.56,451.73 548.73,454.07 548.99,456.32 549.33,458.46 549.75,460.47 550.24,462.34 550.81,464.07 551.45,465.64 552.16,467.04 552.93,468.26 553.75,469.30 554.63,470.14 555.56,470.79 556.52,471.24 557.53,471.49 558.56,471.53 559.61,471.37 560.68,471.00 561.76,470.43 583.43,448.87" fill="#9a9a9a" stroke="#1e1e1e" stroke-width="0.8" stroke-linejoin="round"/>
<polyline points="582.85,390.60 562.67,410.05 561.73,410.72 560.79,411.55 559.86,412.55 558.95,413.72 558.05,415.03 557.19,416.48 556.35,418.07 555.55,419.79 554.79,421.62 554.08,423.55 553.42,425.57 552.81,427.67 552.26,429.84 551.77,432.06 551.35,434.32 550.99,436.60 550.70,438.89 550.49,441.18 550.34,443.45 550.27,445.69 550.28,447.88 550.35,450.02 550.50,452.08 550.73,454.06 551.02,455.94 551.38,457.71 551.81,459.36 552.31,460.88 552.86,462.27 553.48,463.50 554.15,464.58 554.86,465.50 555.63,466.25 556.43,466.82 557.27,467.23 558.14,467.45 559.04,467.49 559.95,467.35 560.88,467.04 561.82,466.55 583.40,445.12" fill="none" stroke="#2a2a2a" stroke-width="0.7" stroke-linejoin="round"/>
<path d="M566.80,414.80 L575.60,405.20" fill="none" stroke="#111" stroke-width="2.6" stroke-linejoin="round" stroke-linecap="round"/>
<path d="M569.60,416.00 L576.60,408.60" fill="none" stroke="#111" stroke-width="1.6" stroke-linejoin="round" stroke-linecap="round"/>
<ellipse cx="567.4" cy="414.6" rx="2.2" ry="3.6" transform="rotate(35 567.4 414.6)" fill="#8a8a8a" stroke="#222" stroke-width="0.7"/>
<path d="M554.50,433.50 L559.50,430.50 L563.50,432.00 L567.00,428.50 L575.00,421.80 L581.00,418.00" fill="none" stroke="#222" stroke-width="0.8" stroke-linejoin="round" />
<path d="M563.50,432.00 L578.60,418.60" fill="none" stroke="#eeeeee" stroke-width="1.1" stroke-linejoin="round" />
<path d="M565.50,433.50 L580.50,420.80" fill="none" stroke="#333" stroke-width="0.6" stroke-linejoin="round" />
<ellipse cx="555.6" cy="442.5" rx="4.6" ry="10.2" fill="#a8a8a8" stroke="#222" stroke-width="0.8"/>
<ellipse cx="556.2" cy="442.0" rx="3.0" ry="7.2" fill="none" stroke="#333" stroke-width="0.7"/>
<ellipse cx="555.4" cy="447.6" rx="1.3" ry="1.0" fill="#f2f2f2"/>
<path d="M556.6,437.2 L571,437.6 L571,447.2 L556.6,446.8 Z" fill="#8e8e8e" stroke="#1a1a1a" stroke-width="0.8"/>
<path d="M557,443.6 L571,444.0 L571,447.0 L557,446.6 Z" fill="#6e6e6e"/>
<ellipse cx="556.8" cy="442.0" rx="1.8" ry="4.8" fill="#9a9a9a" stroke="#222" stroke-width="0.7"/>
<polygon points="620.84,374.90 606.52,388.06 583.44,382.21 597.43,368.79" fill="#d8d8d8" stroke="none" stroke-width="0" stroke-linejoin="round"/>
<polyline points="606.52,388.06 583.44,382.21" fill="none" stroke="#1a1a1a" stroke-width="0.9" stroke-linejoin="round"/>
<polyline points="597.43,368.79 583.44,382.21" fill="none" stroke="#1a1a1a" stroke-width="0.9" stroke-linejoin="round"/>
<path d="M583.70,383.10 L606.60,388.40 L588.40,407.30 L584.00,407.50 L583.40,388.40 Z" fill="#6c6c6c" stroke="#1a1a1a" stroke-width="0.9" stroke-linejoin="round" />
<path d="M584.10,391.60 L599.50,394.60" fill="none" stroke="#e4e4e4" stroke-width="2.0" stroke-linejoin="round" />
<path d="M584.10,393.20 L598.50,396.20" fill="none" stroke="#2a2a2a" stroke-width="0.6" stroke-linejoin="round" />
<path d="M587.40,394.00 L587.40,408.00" fill="none" stroke="#1a1a1a" stroke-width="0.8" stroke-linejoin="round" />
<path d="M580.00,389.50 L580.00,419.00" fill="none" stroke="#1a1a1a" stroke-width="0.8" stroke-linejoin="round" />
<path d="M581.60,389.50 L581.60,419.00" fill="none" stroke="#1a1a1a" stroke-width="0.8" stroke-linejoin="round" />
<rect x="580.3" y="390" width="1.0" height="28" fill="#c8c8c8"/>
<polygon points="595.00,409.80 594.38,410.22 584.74,407.91 585.38,407.48" fill="#c4c4c4" stroke="#c4c4c4" stroke-width="0.9" stroke-linejoin="round"/>
<polygon points="594.38,410.22 593.75,410.71 584.10,408.41 584.74,407.91" fill="#bdbdbd" stroke="#bdbdbd" stroke-width="0.9" stroke-linejoin="round"/>
<polygon points="593.75,410.71 593.12,411.26 583.45,408.97 584.10,408.41" fill="#b5b5b5" stroke="#b5b5b5" stroke-width="0.9" stroke-linejoin="round"/>
<polygon points="593.12,411.26 592.50,411.88 582.81,409.61 583.45,408.97" fill="#adadad" stroke="#adadad" stroke-width="0.9" stroke-linejoin="round"/>
<polygon points="592.50,411.88 591.88,412.57 582.17,410.31 582.81,409.61" fill="#a6a6a6" stroke="#a6a6a6" stroke-width="0.9" stroke-linejoin="round"/>
<polygon points="591.88,412.57 591.26,413.32 581.53,411.07 582.17,410.31" fill="#9e9e9e" stroke="#9e9e9e" stroke-width="0.9" stroke-linejoin="round"/>
<polygon points="591.26,413.32 590.64,414.13 580.90,411.89 581.53,411.07" fill="#969696" stroke="#969696" stroke-width="0.9" stroke-linejoin="round"/>
<polygon points="590.64,414.13 590.03,415.01 580.28,412.78 580.90,411.89" fill="#919191" stroke="#919191" stroke-width="0.9" stroke-linejoin="round"/>
<polygon points="590.03,415.01 589.43,415.94 579.66,413.72 580.28,412.78" fill="#8f8f8f" stroke="#8f8f8f" stroke-width="0.9" stroke-linejoin="round"/>
<polygon points="589.43,415.94 588.84,416.93 579.05,414.73 579.66,413.72" fill="#8d8d8d" stroke="#8d8d8d" stroke-width="0.9" stroke-linejoin="round"/>
<polygon points="588.84,416.93 588.25,417.98 578.45,415.78 579.05,414.73" fill="#8c8c8c" stroke="#8c8c8c" stroke-width="0.9" stroke-linejoin="round"/>
<polygon points="588.25,417.98 587.68,419.08 577.87,416.89 578.45,415.78" fill="#8a8a8a" stroke="#8a8a8a" stroke-width="0.9" stroke-linejoin="round"/>
<polygon points="587.68,419.08 587.12,420.23 577.29,418.06 577.87,416.89" fill="#888888" stroke="#888888" stroke-width="0.9" stroke-linejoin="round"/>
<polygon points="587.12,420.23 586.57,421.43 576.73,419.27 577.29,418.06" fill="#878787" stroke="#878787" stroke-width="0.9" stroke-linejoin="round"/>
<polygon points="586.57,421.43 586.03,422.68 576.18,420.52 576.73,419.27" fill="#858585" stroke="#858585" stroke-width="0.9" stroke-linejoin="round"/>
<polygon points="586.03,422.68 585.51,423.97 575.65,421.83 576.18,420.52" fill="#838383" stroke="#838383" stroke-width="0.9" stroke-linejoin="round"/>
<polygon points="585.51,423.97 585.00,425.31 575.14,423.17 575.65,421.83" fill="#828282" stroke="#828282" stroke-width="0.9" stroke-linejoin="round"/>
<polygon points="585.00,425.31 584.51,426.68 574.64,424.55 575.14,423.17" fill="#808080" stroke="#808080" stroke-width="0.9" stroke-linejoin="round"/>
<polygon points="584.51,426.68 584.03,428.10 574.16,425.97 574.64,424.55" fill="#7f7f7f" stroke="#7f7f7f" stroke-width="0.9" stroke-linejoin="round"/>
<polygon points="584.03,428.10 583.58,429.54 573.70,427.43 574.16,425.97" fill="#7d7d7d" stroke="#7d7d7d" stroke-width="0.9" stroke-linejoin="round"/>
<polygon points="583.58,429.54 583.14,431.02 573.26,428.91 573.70,427.43" fill="#7b7b7b" stroke="#7b7b7b" stroke-width="0.9" stroke-linejoin="round"/>
<polygon points="583.14,431.02 582.73,432.53 572.84,430.42 573.26,428.91" fill="#7a7a7a" stroke="#7a7a7a" stroke-width="0.9" stroke-linejoin="round"/>
<polygon points="582.73,432.53 582.33,434.06 572.44,431.96 572.84,430.42" fill="#787878" stroke="#787878" stroke-width="0.9" stroke-linejoin="round"/>
<polygon points="582.33,434.06 581.96,435.61 572.07,433.52 572.44,431.96" fill="#767676" stroke="#767676" stroke-width="0.9" stroke-linejoin="round"/>
<polygon points="581.96,435.61 581.61,437.19 571.72,435.10 572.07,433.52" fill="#757575" stroke="#757575" stroke-width="0.9" stroke-linejoin="round"/>
<polygon points="581.61,437.19 581.28,438.78 571.39,436.70 571.72,435.10" fill="#737373" stroke="#737373" stroke-width="0.9" stroke-linejoin="round"/>
<polygon points="581.28,438.78 580.97,440.39 571.08,438.31 571.39,436.70" fill="#727272" stroke="#727272" stroke-width="0.9" stroke-linejoin="round"/>
<polygon points="580.97,440.39 580.69,442.01 570.81,439.93 571.08,438.31" fill="#707070" stroke="#707070" stroke-width="0.9" stroke-linejoin="round"/>
<polygon points="580.69,442.01 580.44,443.63 570.55,441.56 570.81,439.93" fill="#6e6e6e" stroke="#6e6e6e" stroke-width="0.9" stroke-linejoin="round"/>
<polygon points="580.44,443.63 580.21,445.26 570.33,443.20 570.55,441.56" fill="#6d6d6d" stroke="#6d6d6d" stroke-width="0.9" stroke-linejoin="round"/>
<polygon points="580.21,445.26 580.00,446.89 570.13,444.83 570.33,443.20" fill="#6b6b6b" stroke="#6b6b6b" stroke-width="0.9" stroke-linejoin="round"/>
<polygon points="580.00,446.89 579.82,448.52 569.95,446.46 570.13,444.83" fill="#696969" stroke="#696969" stroke-width="0.9" stroke-linejoin="round"/>
<polygon points="579.82,448.52 579.67,450.15 569.81,448.09 569.95,446.46" fill="#686868" stroke="#686868" stroke-width="0.9" stroke-linejoin="round"/>
<polygon points="579.67,450.15 579.54,451.77 569.69,449.71 569.81,448.09" fill="#686868" stroke="#686868" stroke-width="0.9" stroke-linejoin="round"/>
<polygon points="579.54,451.77 579.44,453.38 569.60,451.31 569.69,449.71" fill="#676767" stroke="#676767" stroke-width="0.9" stroke-linejoin="round"/>
<polygon points="579.44,453.38 579.37,454.97 569.54,452.91 569.60,451.31" fill="#676767" stroke="#676767" stroke-width="0.9" stroke-linejoin="round"/>
<polygon points="579.37,454.97 579.32,456.55 569.50,454.48 569.54,452.91" fill="#676767" stroke="#676767" stroke-width="0.9" stroke-linejoin="round"/>
<polygon points="579.32,456.55 579.31,458.10 569.50,456.04 569.50,454.48" fill="#666666" stroke="#666666" stroke-width="0.9" stroke-linejoin="round"/>
<polygon points="579.31,458.10 579.32,459.64 569.52,457.57 569.50,456.04" fill="#666666" stroke="#666666" stroke-width="0.9" stroke-linejoin="round"/>
<polygon points="579.32,459.64 579.35,461.15 569.57,459.08 569.52,457.57" fill="#666666" stroke="#666666" stroke-width="0.9" stroke-linejoin="round"/>
<polygon points="579.35,461.15 579.42,462.63 569.65,460.56 569.57,459.08" fill="#666666" stroke="#666666" stroke-width="0.9" stroke-linejoin="round"/>
<polygon points="579.42,462.63 579.51,464.08 569.75,462.00 569.65,460.56" fill="#656565" stroke="#656565" stroke-width="0.9" stroke-linejoin="round"/>
<polygon points="579.51,464.08 579.62,465.49 569.89,463.41 569.75,462.00" fill="#656565" stroke="#656565" stroke-width="0.9" stroke-linejoin="round"/>
<polygon points="579.62,465.49 579.77,466.87 570.05,464.78 569.89,463.41" fill="#656565" stroke="#656565" stroke-width="0.9" stroke-linejoin="round"/>
<polygon points="579.77,466.87 579.94,468.21 570.23,466.12 570.05,464.78" fill="#646464" stroke="#646464" stroke-width="0.9" stroke-linejoin="round"/>
<polygon points="579.94,468.21 580.14,469.51 570.45,467.41 570.23,466.12" fill="#646464" stroke="#646464" stroke-width="0.9" stroke-linejoin="round"/>
<polygon points="580.14,469.51 580.36,470.76 570.69,468.65 570.45,467.41" fill="#646464" stroke="#646464" stroke-width="0.9" stroke-linejoin="round"/>
<polygon points="580.36,470.76 580.61,471.96 570.96,469.85 570.69,468.65" fill="#636363" stroke="#636363" stroke-width="0.9" stroke-linejoin="round"/>
<polygon points="580.61,471.96 580.88,473.12 571.25,471.00 570.96,469.85" fill="#636363" stroke="#636363" stroke-width="0.9" stroke-linejoin="round"/>
<polygon points="580.88,473.12 581.18,474.22 571.57,472.10 571.25,471.00" fill="#636363" stroke="#636363" stroke-width="0.9" stroke-linejoin="round"/>
<polygon points="581.18,474.22 581.50,475.28 571.91,473.14 571.57,472.10" fill="#636363" stroke="#636363" stroke-width="0.9" stroke-linejoin="round"/>
<polygon points="581.50,475.28 581.84,476.27 572.27,474.13 571.91,473.14" fill="#626262" stroke="#626262" stroke-width="0.9" stroke-linejoin="round"/>
<polygon points="581.84,476.27 582.21,477.21 572.66,475.06 572.27,474.13" fill="#626262" stroke="#626262" stroke-width="0.9" stroke-linejoin="round"/>
<polygon points="582.21,477.21 582.60,478.09 573.07,475.93 572.66,475.06" fill="#626262" stroke="#626262" stroke-width="0.9" stroke-linejoin="round"/>
<polygon points="582.60,478.09 583.01,478.91 573.50,476.74 573.07,475.93" fill="#616161" stroke="#616161" stroke-width="0.9" stroke-linejoin="round"/>
<polygon points="583.01,478.91 583.44,479.67 573.95,477.49 573.50,476.74" fill="#616161" stroke="#616161" stroke-width="0.9" stroke-linejoin="round"/>
<polygon points="583.44,479.67 583.89,480.36 574.42,478.17 573.95,477.49" fill="#616161" stroke="#616161" stroke-width="0.9" stroke-linejoin="round"/>
<polygon points="583.89,480.36 584.35,480.99 574.91,478.79 574.42,478.17" fill="#606060" stroke="#606060" stroke-width="0.9" stroke-linejoin="round"/>
<polygon points="584.35,480.99 584.84,481.55 575.42,479.34 574.91,478.79" fill="#606060" stroke="#606060" stroke-width="0.9" stroke-linejoin="round"/>
<polygon points="584.84,481.55 585.34,482.04 575.95,479.82 575.42,479.34" fill="#606060" stroke="#606060" stroke-width="0.9" stroke-linejoin="round"/>
<polygon points="585.34,482.04 585.86,482.47 576.49,480.23 575.95,479.82" fill="#5f5f5f" stroke="#5f5f5f" stroke-width="0.9" stroke-linejoin="round"/>
<polygon points="585.86,482.47 586.39,482.82 577.04,480.58 576.49,480.23" fill="#5f5f5f" stroke="#5f5f5f" stroke-width="0.9" stroke-linejoin="round"/>
<polygon points="586.39,482.82 586.94,483.11 577.61,480.85 577.04,480.58" fill="#5f5f5f" stroke="#5f5f5f" stroke-width="0.9" stroke-linejoin="round"/>
<polygon points="586.94,483.11 587.50,483.32 578.19,481.06 577.61,480.85" fill="#5f5f5f" stroke="#5f5f5f" stroke-width="0.9" stroke-linejoin="round"/>
<polygon points="587.50,483.32 588.07,483.47 578.78,481.19 578.19,481.06" fill="#5e5e5e" stroke="#5e5e5e" stroke-width="0.9" stroke-linejoin="round"/>
<polygon points="588.07,483.47 588.65,483.54 579.39,481.25 578.78,481.19" fill="#5e5e5e" stroke="#5e5e5e" stroke-width="0.9" stroke-linejoin="round"/>
<polygon points="588.65,483.54 589.24,483.55 580.00,481.24 579.39,481.25" fill="#5e5e5e" stroke="#5e5e5e" stroke-width="0.9" stroke-linejoin="round"/>
<polygon points="589.24,483.55 589.84,483.48 580.62,481.16 580.00,481.24" fill="#5d5d5d" stroke="#5d5d5d" stroke-width="0.9" stroke-linejoin="round"/>
<polygon points="589.84,483.48 590.45,483.34 581.25,481.01 580.62,481.16" fill="#5d5d5d" stroke="#5d5d5d" stroke-width="0.9" stroke-linejoin="round"/>
<polygon points="590.45,483.34 591.06,483.13 581.88,480.79 581.25,481.01" fill="#5d5d5d" stroke="#5d5d5d" stroke-width="0.9" stroke-linejoin="round"/>
<polygon points="591.06,483.13 591.68,482.85 582.52,480.50 581.88,480.79" fill="#5c5c5c" stroke="#5c5c5c" stroke-width="0.9" stroke-linejoin="round"/>
<polygon points="591.68,482.85 592.30,482.50 583.16,480.14 582.52,480.50" fill="#5c5c5c" stroke="#5c5c5c" stroke-width="0.9" stroke-linejoin="round"/>
<polygon points="630.80,377.50 595.00,409.80 585.38,407.48 620.84,374.90" fill="#d8d8d8" stroke="#d8d8d8" stroke-width="0.5" stroke-linejoin="round"/>
<polyline points="606.52,388.06 585.38,407.48" fill="none" stroke="#1a1a1a" stroke-width="0.9" stroke-linejoin="round"/>
<polyline points="630.80,377.50 587.47,366.19" fill="none" stroke="#111" stroke-width="1.2" stroke-linejoin="round"/>
<polygon points="630.80,377.50 595.00,409.80 594.06,410.45 593.12,411.26 592.19,412.22 591.26,413.32 590.34,414.56 589.43,415.94 588.54,417.45 587.68,419.08 586.84,420.83 586.03,422.68 585.25,424.64 584.51,426.68 583.80,428.81 583.14,431.02 582.53,433.29 581.96,435.61 581.44,437.98 580.97,440.39 580.56,442.82 580.21,445.26 579.91,447.71 579.67,450.15 579.49,452.57 579.37,454.97 579.31,457.33 579.32,459.64 579.38,461.89 579.51,464.08 579.69,466.19 579.94,468.21 580.25,470.14 580.61,471.96 581.03,473.68 581.50,475.28 582.02,476.75 582.60,478.09 583.22,479.29 583.89,480.36 584.59,481.27 585.34,482.04 586.12,482.65 586.94,483.11 587.78,483.41 588.65,483.54 589.54,483.52 590.45,483.34 591.37,483.00 592.30,482.50 631.20,445.80" fill="#929292" stroke="#0e0e0e" stroke-width="1.4" stroke-linejoin="round"/>
<polygon points="569.50,455.26 569.54,452.91 569.64,450.51 569.81,448.09 570.04,445.65 570.33,443.19 570.68,440.75 571.08,438.31 571.55,435.90 572.07,433.52 572.64,431.19 573.26,428.91 573.93,426.69 574.64,424.55 575.39,422.49 576.18,420.52 577.01,418.66 577.87,416.89 578.75,415.25 579.66,413.73 580.59,412.33 581.53,411.07 582.49,409.95 583.45,408.98 620.84,374.90 630.80,377.50 631.20,445.80 592.30,482.50 591.37,483.00 590.45,483.34 589.54,483.52 588.65,483.54 587.78,483.41 578.49,481.13 577.61,480.85 576.76,480.42 575.95,479.82 575.16,479.07 574.42,478.17 573.72,477.12 573.07,475.93 572.46,474.60 571.91,473.14 571.40,471.56 570.96,469.85 570.57,468.04 570.24,466.12 569.96,464.10 569.75,462.00 569.60,459.82 569.52,457.57" fill="none" stroke="#111" stroke-width="1.4" stroke-linejoin="round"/>
<polygon points="621.79,375.79 608.54,387.93 605.59,387.18 618.80,375.01" fill="#d8d8d8" stroke="none" stroke-width="0" stroke-linejoin="round"/>
<ellipse cx="621.9" cy="401.8" rx="5.3" ry="11.4" transform="rotate(8 621.9 401.8)" fill="#787878" stroke="#1a1a1a" stroke-width="0.9"/>
<ellipse cx="621.8" cy="440.6" rx="5.3" ry="11.2" transform="rotate(8 621.8 440.6)" fill="#787878" stroke="#1a1a1a" stroke-width="0.9"/>
<polygon points="730.41,368.86 731.05,369.11 721.55,366.49 720.90,366.26" fill="#a1a1a1" stroke="#a1a1a1" stroke-width="0.9" stroke-linejoin="round"/>
<polygon points="731.05,369.11 731.68,369.42 722.19,366.79 721.55,366.49" fill="#a1a1a1" stroke="#a1a1a1" stroke-width="0.9" stroke-linejoin="round"/>
<polygon points="731.68,369.42 732.28,369.80 722.81,367.16 722.19,366.79" fill="#a0a0a0" stroke="#a0a0a0" stroke-width="0.9" stroke-linejoin="round"/>
<polygon points="732.28,369.80 732.88,370.25 723.41,367.60 722.81,367.16" fill="#9f9f9f" stroke="#9f9f9f" stroke-width="0.9" stroke-linejoin="round"/>
<polygon points="732.88,370.25 733.45,370.76 723.99,368.10 723.41,367.60" fill="#9f9f9f" stroke="#9f9f9f" stroke-width="0.9" stroke-linejoin="round"/>
<polygon points="733.45,370.76 734.00,371.34 724.54,368.67 723.99,368.10" fill="#9e9e9e" stroke="#9e9e9e" stroke-width="0.9" stroke-linejoin="round"/>
<polygon points="734.00,371.34 734.53,371.98 725.08,369.29 724.54,368.67" fill="#9e9e9e" stroke="#9e9e9e" stroke-width="0.9" stroke-linejoin="round"/>
<polygon points="734.53,371.98 735.03,372.68 725.60,369.99 725.08,369.29" fill="#9d9d9d" stroke="#9d9d9d" stroke-width="0.9" stroke-linejoin="round"/>
<polygon points="735.03,372.68 735.52,373.45 726.09,370.74 725.60,369.99" fill="#9c9c9c" stroke="#9c9c9c" stroke-width="0.9" stroke-linejoin="round"/>
<polygon points="735.52,373.45 735.98,374.27 726.55,371.55 726.09,370.74" fill="#9c9c9c" stroke="#9c9c9c" stroke-width="0.9" stroke-linejoin="round"/>
<polygon points="735.98,374.27 736.41,375.15 726.99,372.42 726.55,371.55" fill="#9b9b9b" stroke="#9b9b9b" stroke-width="0.9" stroke-linejoin="round"/>
<polygon points="736.41,375.15 736.82,376.08 727.40,373.35 726.99,372.42" fill="#9a9a9a" stroke="#9a9a9a" stroke-width="0.9" stroke-linejoin="round"/>
<polygon points="736.82,376.08 737.20,377.08 727.79,374.33 727.40,373.35" fill="#9a9a9a" stroke="#9a9a9a" stroke-width="0.9" stroke-linejoin="round"/>
<polygon points="737.20,377.08 737.55,378.12 728.15,375.36 727.79,374.33" fill="#999999" stroke="#999999" stroke-width="0.9" stroke-linejoin="round"/>
<polygon points="737.55,378.12 737.87,379.21 728.47,376.45 728.15,375.36" fill="#989898" stroke="#989898" stroke-width="0.9" stroke-linejoin="round"/>
<polygon points="737.87,379.21 738.17,380.35 728.77,377.58 728.47,376.45" fill="#989898" stroke="#989898" stroke-width="0.9" stroke-linejoin="round"/>
<polygon points="738.17,380.35 738.43,381.54 729.04,378.76 728.77,377.58" fill="#979797" stroke="#979797" stroke-width="0.9" stroke-linejoin="round"/>
<polygon points="738.43,381.54 738.67,382.77 729.28,379.99 729.04,378.76" fill="#979797" stroke="#979797" stroke-width="0.9" stroke-linejoin="round"/>
<polygon points="738.67,382.77 738.87,384.05 729.49,381.25 729.28,379.99" fill="#969696" stroke="#969696" stroke-width="0.9" stroke-linejoin="round"/>
<polygon points="738.87,384.05 739.05,385.36 729.66,382.56 729.49,381.25" fill="#959595" stroke="#959595" stroke-width="0.9" stroke-linejoin="round"/>
<polygon points="739.05,385.36 739.19,386.71 729.81,383.90 729.66,382.56" fill="#959595" stroke="#959595" stroke-width="0.9" stroke-linejoin="round"/>
<polygon points="739.19,386.71 739.30,388.09 729.92,385.28 729.81,383.90" fill="#949494" stroke="#949494" stroke-width="0.9" stroke-linejoin="round"/>
<polygon points="739.30,388.09 739.38,389.51 730.00,386.69 729.92,385.28" fill="#939393" stroke="#939393" stroke-width="0.9" stroke-linejoin="round"/>
<polygon points="739.38,389.51 739.43,390.95 730.05,388.13 730.00,386.69" fill="#939393" stroke="#939393" stroke-width="0.9" stroke-linejoin="round"/>
<polygon points="739.43,390.95 739.44,392.42 730.06,389.59 730.05,388.13" fill="#929292" stroke="#929292" stroke-width="0.9" stroke-linejoin="round"/>
<polygon points="739.44,392.42 739.42,393.92 730.05,391.08 730.06,389.59" fill="#929292" stroke="#929292" stroke-width="0.9" stroke-linejoin="round"/>
<polygon points="739.42,393.92 739.38,395.43 730.00,392.59 730.05,391.08" fill="#919191" stroke="#919191" stroke-width="0.9" stroke-linejoin="round"/>
<polygon points="739.38,395.43 739.30,396.96 729.91,394.12 730.00,392.59" fill="#909090" stroke="#909090" stroke-width="0.9" stroke-linejoin="round"/>
<polygon points="739.30,396.96 739.18,398.50 729.80,395.66 729.91,394.12" fill="#909090" stroke="#909090" stroke-width="0.9" stroke-linejoin="round"/>
<polygon points="739.18,398.50 739.04,400.06 729.65,397.22 729.80,395.66" fill="#8f8f8f" stroke="#8f8f8f" stroke-width="0.9" stroke-linejoin="round"/>
<polygon points="739.04,400.06 738.87,401.63 729.48,398.78 729.65,397.22" fill="#8e8e8e" stroke="#8e8e8e" stroke-width="0.9" stroke-linejoin="round"/>
<polygon points="738.87,401.63 738.66,403.20 729.27,400.35 729.48,398.78" fill="#8e8e8e" stroke="#8e8e8e" stroke-width="0.9" stroke-linejoin="round"/>
<polygon points="738.66,403.20 738.42,404.77 729.03,401.93 729.27,400.35" fill="#8d8d8d" stroke="#8d8d8d" stroke-width="0.9" stroke-linejoin="round"/>
<polygon points="738.42,404.77 738.16,406.35 728.76,403.50 729.03,401.93" fill="#8c8c8c" stroke="#8c8c8c" stroke-width="0.9" stroke-linejoin="round"/>
<polygon points="738.16,406.35 737.86,407.92 728.45,405.07 728.76,403.50" fill="#8c8c8c" stroke="#8c8c8c" stroke-width="0.9" stroke-linejoin="round"/>
<polygon points="737.86,407.92 737.54,409.48 728.12,406.64 728.45,405.07" fill="#8b8b8b" stroke="#8b8b8b" stroke-width="0.9" stroke-linejoin="round"/>
<polygon points="737.54,409.48 737.18,411.04 727.77,408.20 728.12,406.64" fill="#8b8b8b" stroke="#8b8b8b" stroke-width="0.9" stroke-linejoin="round"/>
<polygon points="737.18,411.04 736.80,412.58 727.38,409.74 727.77,408.20" fill="#8a8a8a" stroke="#8a8a8a" stroke-width="0.9" stroke-linejoin="round"/>
<polygon points="736.80,412.58 736.39,414.11 726.96,411.27 727.38,409.74" fill="#898989" stroke="#898989" stroke-width="0.9" stroke-linejoin="round"/>
<polygon points="736.39,414.11 735.96,415.61 726.52,412.79 726.96,411.27" fill="#898989" stroke="#898989" stroke-width="0.9" stroke-linejoin="round"/>
<polygon points="735.96,415.61 735.50,417.10 726.06,414.28 726.52,412.79" fill="#888888" stroke="#888888" stroke-width="0.9" stroke-linejoin="round"/>
<polygon points="735.50,417.10 735.02,418.57 725.56,415.75 726.06,414.28" fill="#878787" stroke="#878787" stroke-width="0.9" stroke-linejoin="round"/>
<polygon points="735.02,418.57 734.51,420.01 725.05,417.19 725.56,415.75" fill="#878787" stroke="#878787" stroke-width="0.9" stroke-linejoin="round"/>
<polygon points="734.51,420.01 733.98,421.42 724.51,418.61 725.05,417.19" fill="#868686" stroke="#868686" stroke-width="0.9" stroke-linejoin="round"/>
<polygon points="733.98,421.42 733.43,422.79 723.95,419.99 724.51,418.61" fill="#868686" stroke="#868686" stroke-width="0.9" stroke-linejoin="round"/>
<polygon points="733.43,422.79 732.85,424.13 723.37,421.34 723.95,419.99" fill="#858585" stroke="#858585" stroke-width="0.9" stroke-linejoin="round"/>
<polygon points="732.85,424.13 732.26,425.44 722.77,422.65 723.37,421.34" fill="#848484" stroke="#848484" stroke-width="0.9" stroke-linejoin="round"/>
<polygon points="732.26,425.44 731.65,426.70 722.15,423.92 722.77,422.65" fill="#848484" stroke="#848484" stroke-width="0.9" stroke-linejoin="round"/>
<polygon points="731.65,426.70 731.02,427.93 721.51,425.15 722.15,423.92" fill="#838383" stroke="#838383" stroke-width="0.9" stroke-linejoin="round"/>
<polygon points="731.02,427.93 730.38,429.11 720.86,426.34 721.51,425.15" fill="#828282" stroke="#828282" stroke-width="0.9" stroke-linejoin="round"/>
<polygon points="730.38,429.11 729.72,430.24 720.19,427.48 720.86,426.34" fill="#828282" stroke="#828282" stroke-width="0.9" stroke-linejoin="round"/>
<polygon points="729.72,430.24 729.05,431.32 719.51,428.57 720.19,427.48" fill="#818181" stroke="#818181" stroke-width="0.9" stroke-linejoin="round"/>
<polygon points="729.05,431.32 728.37,432.36 718.81,429.62 719.51,428.57" fill="#808080" stroke="#808080" stroke-width="0.9" stroke-linejoin="round"/>
<polygon points="728.37,432.36 727.67,433.34 718.11,430.61 718.81,429.62" fill="#808080" stroke="#808080" stroke-width="0.9" stroke-linejoin="round"/>
<polygon points="727.67,433.34 726.97,434.26 717.39,431.54 718.11,430.61" fill="#7f7f7f" stroke="#7f7f7f" stroke-width="0.9" stroke-linejoin="round"/>
<polygon points="726.97,434.26 726.26,435.13 716.67,432.42 717.39,431.54" fill="#7f7f7f" stroke="#7f7f7f" stroke-width="0.9" stroke-linejoin="round"/>
<polygon points="726.26,435.13 725.54,435.94 715.94,433.24 716.67,432.42" fill="#7e7e7e" stroke="#7e7e7e" stroke-width="0.9" stroke-linejoin="round"/>
<polygon points="725.54,435.94 724.81,436.69 715.20,434.00 715.94,433.24" fill="#7d7d7d" stroke="#7d7d7d" stroke-width="0.9" stroke-linejoin="round"/>
<polygon points="720.45,372.54 721.18,371.85 711.53,369.40 710.79,370.10" fill="#b8b8b8" stroke="#b8b8b8" stroke-width="0.9" stroke-linejoin="round"/>
<polygon points="721.18,371.85 721.91,371.22 712.28,368.76 711.53,369.40" fill="#b6b6b6" stroke="#b6b6b6" stroke-width="0.9" stroke-linejoin="round"/>
<polygon points="721.91,371.22 722.65,370.65 713.02,368.18 712.28,368.76" fill="#b3b3b3" stroke="#b3b3b3" stroke-width="0.9" stroke-linejoin="round"/>
<polygon points="722.65,370.65 723.38,370.15 713.77,367.67 713.02,368.18" fill="#b1b1b1" stroke="#b1b1b1" stroke-width="0.9" stroke-linejoin="round"/>
<polygon points="723.38,370.15 724.11,369.72 714.51,367.23 713.77,367.67" fill="#afafaf" stroke="#afafaf" stroke-width="0.9" stroke-linejoin="round"/>
<polygon points="724.11,369.72 724.84,369.35 715.25,366.85 714.51,367.23" fill="#acacac" stroke="#acacac" stroke-width="0.9" stroke-linejoin="round"/>
<polygon points="724.84,369.35 725.56,369.05 715.99,366.53 715.25,366.85" fill="#aaaaaa" stroke="#aaaaaa" stroke-width="0.9" stroke-linejoin="round"/>
<polygon points="725.56,369.05 726.28,368.82 716.72,366.29 715.99,366.53" fill="#a8a8a8" stroke="#a8a8a8" stroke-width="0.9" stroke-linejoin="round"/>
<polygon points="726.28,368.82 727.00,368.66 717.44,366.11 716.72,366.29" fill="#a5a5a5" stroke="#a5a5a5" stroke-width="0.9" stroke-linejoin="round"/>
<polygon points="727.00,368.66 727.70,368.56 718.15,366.01 717.44,366.11" fill="#a4a4a4" stroke="#a4a4a4" stroke-width="0.9" stroke-linejoin="round"/>
<polygon points="727.70,368.56 728.39,368.53 718.86,365.97 718.15,366.01" fill="#a4a4a4" stroke="#a4a4a4" stroke-width="0.9" stroke-linejoin="round"/>
<polygon points="728.39,368.53 729.08,368.57 719.55,365.99 718.86,365.97" fill="#a3a3a3" stroke="#a3a3a3" stroke-width="0.9" stroke-linejoin="round"/>
<polygon points="729.08,368.57 729.75,368.68 720.23,366.09 719.55,365.99" fill="#a3a3a3" stroke="#a3a3a3" stroke-width="0.9" stroke-linejoin="round"/>
<polygon points="729.75,368.68 730.41,368.86 720.90,366.26 720.23,366.09" fill="#a2a2a2" stroke="#a2a2a2" stroke-width="0.9" stroke-linejoin="round"/>
<polygon points="689.19,406.78 720.45,372.54 721.55,371.52 722.65,370.65 723.74,369.93 724.84,369.35 725.92,368.93 727.00,368.66 728.05,368.54 729.08,368.57 730.08,368.76 731.05,369.11 731.98,369.60 732.88,370.25 733.73,371.04 734.53,371.98 735.28,373.06 735.98,374.27 736.62,375.61 737.20,377.08 737.71,378.66 738.17,380.35 738.55,382.15 738.87,384.05 739.12,386.03 739.30,388.09 739.41,390.23 739.44,392.42 739.40,394.67 739.30,396.96 739.12,399.28 738.87,401.63 738.54,403.99 738.16,406.35 737.70,408.70 737.18,411.04 736.60,413.34 735.96,415.61 735.26,417.84 734.51,420.01 733.70,422.11 732.85,424.13 731.96,426.08 731.02,427.93 730.05,429.68 729.05,431.32 728.02,432.85 726.97,434.26 725.90,435.54 724.81,436.69 689.05,473.53" fill="#a4a4a4" stroke="#222" stroke-width="0.8" stroke-linejoin="round"/>
<polygon points="689.19,406.78 720.45,372.54 710.79,370.10 678.79,404.50" fill="#a8a8a8" stroke="#222" stroke-width="0.8" stroke-linejoin="round"/>
<polygon points="678.70,471.00 678.79,404.50 710.79,370.10 711.91,369.07 713.02,368.18 714.14,367.44 715.25,366.85 716.35,366.40 717.44,366.11 718.51,365.98 719.55,365.99 720.57,366.17 730.08,368.76 731.05,369.11 731.98,369.60 732.88,370.25 733.73,371.04 734.53,371.98 735.28,373.06 735.98,374.27 736.62,375.61 737.20,377.08 737.71,378.66 738.17,380.35 738.55,382.15 738.87,384.05 739.12,386.03 739.30,388.09 739.41,390.23 739.44,392.42 739.40,394.67 739.30,396.96 739.12,399.28 738.87,401.63 738.54,403.99 738.16,406.35 737.70,408.70 737.18,411.04 736.60,413.34 735.96,415.62 735.26,417.84 734.51,420.01 733.71,422.11 732.85,424.13 731.96,426.08 731.02,427.93 730.05,429.68 729.05,431.32 728.02,432.85 726.97,434.26 725.90,435.54 724.81,436.69 689.05,473.53" fill="none" stroke="#111" stroke-width="1.3" stroke-linejoin="round"/>
<polyline points="701.88,395.76 720.64,375.29 721.82,374.21 723.01,373.32 724.20,372.63 725.37,372.13 726.53,371.83 727.67,371.73 728.77,371.84 729.84,372.15 730.86,372.66 731.83,373.36 732.74,374.26 733.60,375.35 734.38,376.61 735.09,378.05 735.73,379.65 736.28,381.41 736.75,383.31 737.14,385.34 737.43,387.49 737.63,389.75 737.74,392.09 737.76,394.52 737.68,397.00" fill="none" stroke="#2a2a2a" stroke-width="0.7" stroke-linejoin="round"/>
<path d="M719.4,396.5 A5,6.2 0 0 1 729.0,392.5" fill="#b0b0b0" stroke="#333" stroke-width="0.8"/>
<path d="M721.4,396.5 A3.6,4.8 0 0 1 728.0,393.5" fill="none" stroke="#e0e0e0" stroke-width="0.8"/>
<circle cx="712.3" cy="393.2" r="1.0" fill="#dcdcdc" stroke="#333" stroke-width="0.5"/>
<polygon points="713.84,411.86 725.31,398.71 700.31,392.92 688.13,406.23" fill="#a8a8a8" stroke="none" stroke-width="0" stroke-linejoin="round"/>
<polyline points="713.61,412.12 725.54,398.45 701.81,392.95" fill="none" stroke="#1a1a1a" stroke-width="0.9" stroke-linejoin="round"/>
<polygon points="761.63,377.36 762.25,377.58 752.75,374.98 752.11,374.77" fill="#a2a2a2" stroke="#a2a2a2" stroke-width="0.9" stroke-linejoin="round"/>
<polygon points="762.25,377.58 762.86,377.87 753.37,375.25 752.75,374.98" fill="#a1a1a1" stroke="#a1a1a1" stroke-width="0.9" stroke-linejoin="round"/>
<polygon points="762.86,377.87 763.46,378.22 753.97,375.60 753.37,375.25" fill="#a1a1a1" stroke="#a1a1a1" stroke-width="0.9" stroke-linejoin="round"/>
<polygon points="763.46,378.22 764.04,378.65 754.56,376.01 753.97,375.60" fill="#a0a0a0" stroke="#a0a0a0" stroke-width="0.9" stroke-linejoin="round"/>
<polygon points="764.04,378.65 764.60,379.13 755.13,376.48 754.56,376.01" fill="#9f9f9f" stroke="#9f9f9f" stroke-width="0.9" stroke-linejoin="round"/>
<polygon points="764.60,379.13 765.14,379.68 755.68,377.02 755.13,376.48" fill="#9f9f9f" stroke="#9f9f9f" stroke-width="0.9" stroke-linejoin="round"/>
<polygon points="765.14,379.68 765.67,380.30 756.22,377.62 755.68,377.02" fill="#9e9e9e" stroke="#9e9e9e" stroke-width="0.9" stroke-linejoin="round"/>
<polygon points="765.67,380.30 766.17,380.98 756.73,378.29 756.22,377.62" fill="#9e9e9e" stroke="#9e9e9e" stroke-width="0.9" stroke-linejoin="round"/>
<polygon points="766.17,380.98 766.65,381.71 757.22,379.02 756.73,378.29" fill="#9d9d9d" stroke="#9d9d9d" stroke-width="0.9" stroke-linejoin="round"/>
<polygon points="766.65,381.71 767.11,382.51 757.68,379.81 757.22,379.02" fill="#9c9c9c" stroke="#9c9c9c" stroke-width="0.9" stroke-linejoin="round"/>
<polygon points="767.11,382.51 767.55,383.37 758.13,380.65 757.68,379.81" fill="#9c9c9c" stroke="#9c9c9c" stroke-width="0.9" stroke-linejoin="round"/>
<polygon points="767.55,383.37 767.96,384.28 758.54,381.56 758.13,380.65" fill="#9b9b9b" stroke="#9b9b9b" stroke-width="0.9" stroke-linejoin="round"/>
<polygon points="767.96,384.28 768.35,385.25 758.94,382.52 758.54,381.56" fill="#9a9a9a" stroke="#9a9a9a" stroke-width="0.9" stroke-linejoin="round"/>
<polygon points="768.35,385.25 768.71,386.28 759.30,383.53 758.94,382.52" fill="#9a9a9a" stroke="#9a9a9a" stroke-width="0.9" stroke-linejoin="round"/>
<polygon points="768.71,386.28 769.05,387.35 759.64,384.59 759.30,383.53" fill="#999999" stroke="#999999" stroke-width="0.9" stroke-linejoin="round"/>
<polygon points="769.05,387.35 769.36,388.47 759.96,385.71 759.64,384.59" fill="#989898" stroke="#989898" stroke-width="0.9" stroke-linejoin="round"/>
<polygon points="769.36,388.47 769.64,389.64 760.24,386.87 759.96,385.71" fill="#989898" stroke="#989898" stroke-width="0.9" stroke-linejoin="round"/>
<polygon points="769.64,389.64 769.89,390.86 760.50,388.08 760.24,386.87" fill="#979797" stroke="#979797" stroke-width="0.9" stroke-linejoin="round"/>
<polygon points="769.89,390.86 770.11,392.11 760.73,389.33 760.50,388.08" fill="#979797" stroke="#979797" stroke-width="0.9" stroke-linejoin="round"/>
<polygon points="770.11,392.11 770.31,393.41 760.93,390.62 760.73,389.33" fill="#969696" stroke="#969696" stroke-width="0.9" stroke-linejoin="round"/>
<polygon points="770.31,393.41 770.48,394.75 761.09,391.95 760.93,390.62" fill="#959595" stroke="#959595" stroke-width="0.9" stroke-linejoin="round"/>
<polygon points="770.48,394.75 770.61,396.12 761.23,393.31 761.09,391.95" fill="#959595" stroke="#959595" stroke-width="0.9" stroke-linejoin="round"/>
<polygon points="770.61,396.12 770.72,397.52 761.34,394.71 761.23,393.31" fill="#949494" stroke="#949494" stroke-width="0.9" stroke-linejoin="round"/>
<polygon points="770.72,397.52 770.80,398.95 761.42,396.13 761.34,394.71" fill="#939393" stroke="#939393" stroke-width="0.9" stroke-linejoin="round"/>
<polygon points="770.80,398.95 770.84,400.41 761.46,397.59 761.42,396.13" fill="#939393" stroke="#939393" stroke-width="0.9" stroke-linejoin="round"/>
<polygon points="770.84,400.41 770.86,401.90 761.48,399.07 761.46,397.59" fill="#929292" stroke="#929292" stroke-width="0.9" stroke-linejoin="round"/>
<polygon points="770.86,401.90 770.84,403.40 761.47,400.57 761.48,399.07" fill="#929292" stroke="#929292" stroke-width="0.9" stroke-linejoin="round"/>
<polygon points="770.84,403.40 770.80,404.93 761.42,402.09 761.47,400.57" fill="#919191" stroke="#919191" stroke-width="0.9" stroke-linejoin="round"/>
<polygon points="770.80,404.93 770.72,406.47 761.34,403.63 761.42,402.09" fill="#909090" stroke="#909090" stroke-width="0.9" stroke-linejoin="round"/>
<polygon points="770.72,406.47 770.62,408.02 761.24,405.18 761.34,403.63" fill="#909090" stroke="#909090" stroke-width="0.9" stroke-linejoin="round"/>
<polygon points="770.62,408.02 770.48,409.58 761.10,406.74 761.24,405.18" fill="#8f8f8f" stroke="#8f8f8f" stroke-width="0.9" stroke-linejoin="round"/>
<polygon points="770.48,409.58 770.32,411.15 760.93,408.31 761.10,406.74" fill="#8e8e8e" stroke="#8e8e8e" stroke-width="0.9" stroke-linejoin="round"/>
<polygon points="770.32,411.15 770.13,412.72 760.73,409.88 760.93,408.31" fill="#8e8e8e" stroke="#8e8e8e" stroke-width="0.9" stroke-linejoin="round"/>
<polygon points="770.13,412.72 769.90,414.30 760.51,411.45 760.73,409.88" fill="#8d8d8d" stroke="#8d8d8d" stroke-width="0.9" stroke-linejoin="round"/>
<polygon points="769.90,414.30 769.65,415.87 760.25,413.03 760.51,411.45" fill="#8c8c8c" stroke="#8c8c8c" stroke-width="0.9" stroke-linejoin="round"/>
<polygon points="769.65,415.87 769.37,417.44 759.96,414.60 760.25,413.03" fill="#8c8c8c" stroke="#8c8c8c" stroke-width="0.9" stroke-linejoin="round"/>
<polygon points="769.37,417.44 769.06,419.00 759.65,416.16 759.96,414.60" fill="#8b8b8b" stroke="#8b8b8b" stroke-width="0.9" stroke-linejoin="round"/>
<polygon points="769.06,419.00 768.73,420.54 759.31,417.71 759.65,416.16" fill="#8b8b8b" stroke="#8b8b8b" stroke-width="0.9" stroke-linejoin="round"/>
<polygon points="768.73,420.54 768.37,422.08 758.95,419.24 759.31,417.71" fill="#8a8a8a" stroke="#8a8a8a" stroke-width="0.9" stroke-linejoin="round"/>
<polygon points="768.37,422.08 767.98,423.60 758.55,420.76 758.95,419.24" fill="#898989" stroke="#898989" stroke-width="0.9" stroke-linejoin="round"/>
<polygon points="767.98,423.60 767.57,425.09 758.13,422.26 758.55,420.76" fill="#898989" stroke="#898989" stroke-width="0.9" stroke-linejoin="round"/>
<polygon points="767.57,425.09 767.14,426.57 757.69,423.74 758.13,422.26" fill="#888888" stroke="#888888" stroke-width="0.9" stroke-linejoin="round"/>
<polygon points="767.14,426.57 766.68,428.02 757.23,425.20 757.69,423.74" fill="#878787" stroke="#878787" stroke-width="0.9" stroke-linejoin="round"/>
<polygon points="766.68,428.02 766.20,429.44 756.74,426.62 757.23,425.20" fill="#878787" stroke="#878787" stroke-width="0.9" stroke-linejoin="round"/>
<polygon points="766.20,429.44 765.69,430.83 756.23,428.02 756.74,426.62" fill="#868686" stroke="#868686" stroke-width="0.9" stroke-linejoin="round"/>
<polygon points="765.69,430.83 765.17,432.19 755.70,429.38 756.23,428.02" fill="#868686" stroke="#868686" stroke-width="0.9" stroke-linejoin="round"/>
<polygon points="765.17,432.19 764.63,433.51 755.14,430.71 755.70,429.38" fill="#858585" stroke="#858585" stroke-width="0.9" stroke-linejoin="round"/>
<polygon points="764.63,433.51 764.07,434.79 754.57,432.00 755.14,430.71" fill="#848484" stroke="#848484" stroke-width="0.9" stroke-linejoin="round"/>
<polygon points="764.07,434.79 763.49,436.03 753.99,433.25 754.57,432.00" fill="#848484" stroke="#848484" stroke-width="0.9" stroke-linejoin="round"/>
<polygon points="763.49,436.03 762.89,437.23 753.38,434.45 753.99,433.25" fill="#838383" stroke="#838383" stroke-width="0.9" stroke-linejoin="round"/>
<polygon points="762.89,437.23 762.28,438.38 752.76,435.61 753.38,434.45" fill="#828282" stroke="#828282" stroke-width="0.9" stroke-linejoin="round"/>
<polygon points="762.28,438.38 761.66,439.48 752.13,436.72 752.76,435.61" fill="#828282" stroke="#828282" stroke-width="0.9" stroke-linejoin="round"/>
<polygon points="761.66,439.48 761.02,440.53 751.48,437.78 752.13,436.72" fill="#818181" stroke="#818181" stroke-width="0.9" stroke-linejoin="round"/>
<polygon points="761.02,440.53 760.37,441.54 750.82,438.80 751.48,437.78" fill="#808080" stroke="#808080" stroke-width="0.9" stroke-linejoin="round"/>
<polygon points="760.37,441.54 759.72,442.48 750.15,439.75 750.82,438.80" fill="#808080" stroke="#808080" stroke-width="0.9" stroke-linejoin="round"/>
<polygon points="759.72,442.48 759.05,443.38 749.47,440.65 750.15,439.75" fill="#7f7f7f" stroke="#7f7f7f" stroke-width="0.9" stroke-linejoin="round"/>
<polygon points="759.05,443.38 758.37,444.21 748.78,441.50 749.47,440.65" fill="#7f7f7f" stroke="#7f7f7f" stroke-width="0.9" stroke-linejoin="round"/>
<polygon points="758.37,444.21 757.69,444.99 748.09,442.29 748.78,441.50" fill="#7e7e7e" stroke="#7e7e7e" stroke-width="0.9" stroke-linejoin="round"/>
<polygon points="757.69,444.99 757.00,445.70 747.39,443.01 748.09,442.29" fill="#7d7d7d" stroke="#7d7d7d" stroke-width="0.9" stroke-linejoin="round"/>
<polygon points="752.80,380.70 753.49,380.05 743.85,377.60 743.14,378.26" fill="#b8b8b8" stroke="#b8b8b8" stroke-width="0.9" stroke-linejoin="round"/>
<polygon points="753.49,380.05 754.19,379.46 744.55,377.00 743.85,377.60" fill="#b6b6b6" stroke="#b6b6b6" stroke-width="0.9" stroke-linejoin="round"/>
<polygon points="754.19,379.46 754.88,378.93 745.26,376.46 744.55,377.00" fill="#b3b3b3" stroke="#b3b3b3" stroke-width="0.9" stroke-linejoin="round"/>
<polygon points="754.88,378.93 755.58,378.47 745.97,375.99 745.26,376.46" fill="#b1b1b1" stroke="#b1b1b1" stroke-width="0.9" stroke-linejoin="round"/>
<polygon points="755.58,378.47 756.27,378.08 746.67,375.58 745.97,375.99" fill="#afafaf" stroke="#afafaf" stroke-width="0.9" stroke-linejoin="round"/>
<polygon points="756.27,378.08 756.97,377.75 747.38,375.24 746.67,375.58" fill="#acacac" stroke="#acacac" stroke-width="0.9" stroke-linejoin="round"/>
<polygon points="756.97,377.75 757.65,377.49 748.08,374.97 747.38,375.24" fill="#aaaaaa" stroke="#aaaaaa" stroke-width="0.9" stroke-linejoin="round"/>
<polygon points="757.65,377.49 758.34,377.30 748.77,374.77 748.08,374.97" fill="#a8a8a8" stroke="#a8a8a8" stroke-width="0.9" stroke-linejoin="round"/>
<polygon points="758.34,377.30 759.01,377.17 749.46,374.63 748.77,374.77" fill="#a5a5a5" stroke="#a5a5a5" stroke-width="0.9" stroke-linejoin="round"/>
<polygon points="759.01,377.17 759.68,377.12 750.14,374.56 749.46,374.63" fill="#a4a4a4" stroke="#a4a4a4" stroke-width="0.9" stroke-linejoin="round"/>
<polygon points="759.68,377.12 760.34,377.13 750.81,374.56 750.14,374.56" fill="#a4a4a4" stroke="#a4a4a4" stroke-width="0.9" stroke-linejoin="round"/>
<polygon points="760.34,377.13 760.99,377.21 751.46,374.63 750.81,374.56" fill="#a3a3a3" stroke="#a3a3a3" stroke-width="0.9" stroke-linejoin="round"/>
<polygon points="760.99,377.21 761.63,377.36 752.11,374.77 751.46,374.63" fill="#a3a3a3" stroke="#a3a3a3" stroke-width="0.9" stroke-linejoin="round"/>
<polygon points="724.00,414.40 752.80,380.70 743.14,378.26 713.61,412.12" fill="#b6b6b6" stroke="#222" stroke-width="0.8" stroke-linejoin="round"/>
<polygon points="724.00,414.40 752.80,380.70 753.84,379.74 754.88,378.93 755.93,378.27 756.97,377.75 758.00,377.38 759.01,377.17 760.01,377.12 760.99,377.21 761.94,377.47 762.86,377.87 763.75,378.43 764.60,379.13 765.41,379.98 766.17,380.98 766.89,382.11 767.55,383.37 768.16,384.76 768.71,386.28 769.21,387.91 769.64,389.64 770.01,391.48 770.31,393.41 770.55,395.43 770.72,397.52 770.82,399.68 770.86,401.90 770.83,404.16 770.72,406.47 770.56,408.80 770.32,411.15 770.02,413.51 769.65,415.87 769.22,418.22 768.73,420.54 768.18,422.84 767.57,425.09 766.91,427.30 766.20,429.44 765.44,431.51 764.63,433.51 763.78,435.41 762.89,437.23 761.97,438.94 761.02,440.53 760.05,442.02 759.05,443.38 758.03,444.60 757.00,445.70 723.70,482.00" fill="#939393" stroke="#111" stroke-width="1.3" stroke-linejoin="round"/>
<polygon points="713.36,479.47 713.61,412.12 743.14,378.26 744.20,377.29 745.26,376.46 746.32,375.78 747.38,375.24 748.42,374.86 749.46,374.63 750.47,374.56 751.47,374.63 752.43,374.87 761.94,377.47 762.87,377.87 763.75,378.43 764.60,379.13 765.41,379.98 766.17,380.98 766.89,382.11 767.55,383.37 768.16,384.76 768.71,386.28 769.21,387.90 769.64,389.64 770.01,391.48 770.31,393.41 770.55,395.43 770.72,397.52 770.82,399.68 770.86,401.90 770.83,404.16 770.72,406.47 770.55,408.80 770.32,411.15 770.02,413.51 769.65,415.87 769.22,418.22 768.73,420.55 768.18,422.84 767.57,425.09 766.91,427.30 766.20,429.44 765.43,431.51 764.63,433.51 763.78,435.41 762.89,437.23 761.97,438.94 761.02,440.53 760.05,442.02 759.05,443.38 758.03,444.61 723.70,482.00" fill="none" stroke="#111" stroke-width="1.5" stroke-linejoin="round"/>
<polygon points="724.00,414.40 678.79,404.50 678.70,471.00 723.70,482.00" fill="#868686" stroke="#111" stroke-width="1.1" stroke-linejoin="round"/>
<polyline points="713.61,412.12 713.36,479.47" fill="none" stroke="#1a1a1a" stroke-width="0.8" stroke-linejoin="round"/>
<polyline points="689.19,406.78 689.17,416.79" fill="none" stroke="#333" stroke-width="0.6" stroke-linejoin="round"/>
<polyline points="689.07,463.99 689.05,473.53" fill="none" stroke="#333" stroke-width="0.6" stroke-linejoin="round"/>
<polygon points="713.54,431.37 686.55,425.26 686.48,460.99 713.40,467.45" fill="#6f6f6f" stroke="#1a1a1a" stroke-width="0.8" stroke-linejoin="round"/>
<polygon points="713.27,433.23 690.18,427.99 690.11,459.95 713.15,465.46" fill="#8c8c8c" stroke="#2a2a2a" stroke-width="0.6" stroke-linejoin="round"/>
<polyline points="713.05,422.11 689.43,416.85" fill="none" stroke="#2a2a2a" stroke-width="0.7" stroke-linejoin="round"/>
<polyline points="712.02,420.20 690.73,415.47" fill="none" stroke="#e2e2e2" stroke-width="1.8" stroke-linejoin="round"/>
<polyline points="712.87,471.65 689.32,465.96" fill="none" stroke="#2a2a2a" stroke-width="0.7" stroke-linejoin="round"/>
<polyline points="711.83,473.32 690.61,468.19" fill="none" stroke="#e2e2e2" stroke-width="1.8" stroke-linejoin="round"/>
<polygon points="680.87,408.04 688.40,409.70 688.38,422.10 680.85,420.40" fill="#3e3e3e" stroke="#151515" stroke-width="0.8" stroke-linejoin="round"/>
<line x1="683.20" y1="411.41" x2="686.06" y2="412.05" stroke="#a8a8a8" stroke-width="0.8"/>
<line x1="683.20" y1="414.74" x2="686.05" y2="415.38" stroke="#a8a8a8" stroke-width="0.8"/>
<line x1="683.19" y1="418.08" x2="686.05" y2="418.71" stroke="#a8a8a8" stroke-width="0.8"/>
<polygon points="716.46,414.19 723.99,415.85 723.94,428.40 716.41,426.71" fill="#3e3e3e" stroke="#151515" stroke-width="0.8" stroke-linejoin="round"/>
<line x1="718.79" y1="417.60" x2="721.64" y2="418.23" stroke="#a8a8a8" stroke-width="0.8"/>
<line x1="718.77" y1="420.97" x2="721.63" y2="421.61" stroke="#a8a8a8" stroke-width="0.8"/>
<line x1="718.76" y1="424.35" x2="721.61" y2="424.98" stroke="#a8a8a8" stroke-width="0.8"/>
<polygon points="680.79,459.62 688.30,461.42 688.27,473.82 680.77,471.98" fill="#3e3e3e" stroke="#151515" stroke-width="0.8" stroke-linejoin="round"/>
<line x1="683.11" y1="463.04" x2="685.96" y2="463.72" stroke="#a8a8a8" stroke-width="0.8"/>
<line x1="683.11" y1="466.37" x2="685.96" y2="467.06" stroke="#a8a8a8" stroke-width="0.8"/>
<line x1="683.10" y1="469.70" x2="685.95" y2="470.39" stroke="#a8a8a8" stroke-width="0.8"/>
<polygon points="716.25,466.44 723.76,468.24 723.71,480.79 716.21,478.96" fill="#3e3e3e" stroke="#151515" stroke-width="0.8" stroke-linejoin="round"/>
<line x1="718.57" y1="469.89" x2="721.42" y2="470.58" stroke="#a8a8a8" stroke-width="0.8"/>
<line x1="718.56" y1="473.27" x2="721.40" y2="473.95" stroke="#a8a8a8" stroke-width="0.8"/>
<line x1="718.54" y1="476.64" x2="721.39" y2="477.33" stroke="#a8a8a8" stroke-width="0.8"/>
<ellipse cx="703.40" cy="440.00" rx="8.4" ry="8.8" fill="none" stroke="#2a2a2a" stroke-width="1.0"/>
<path d="M696.90,436.50 A8.4,8.8 0 0 1 699.90,432.10" fill="none" stroke="#d8d8d8" stroke-width="1.0"/>
<path d="M711.40,443.00 A8.4,8.8 0 0 1 708.90,446.80" fill="none" stroke="#d8d8d8" stroke-width="1.0"/>
<polygon points="698.09,435.60 682.59,454.30 693.21,463.10 708.71,444.40" fill="#1c1c1c" stroke="#0c0c0c" stroke-width="0.8"/>
<ellipse cx="703.40" cy="440.00" rx="6.90" ry="5.52" transform="rotate(219.7 703.40 440.00)" fill="#1c1c1c" stroke="#0c0c0c" stroke-width="0.8"/>
<line x1="707.25" y1="443.19" x2="691.75" y2="461.89" stroke="#4a4a4a" stroke-width="0.5"/>
<line x1="706.02" y1="442.17" x2="690.52" y2="460.87" stroke="#4a4a4a" stroke-width="0.5"/>
<line x1="704.79" y1="441.15" x2="689.29" y2="459.85" stroke="#4a4a4a" stroke-width="0.5"/>
<line x1="703.55" y1="440.13" x2="688.05" y2="458.83" stroke="#4a4a4a" stroke-width="0.5"/>
<line x1="702.32" y1="439.11" x2="686.82" y2="457.81" stroke="#4a4a4a" stroke-width="0.5"/>
<line x1="701.09" y1="438.09" x2="685.59" y2="456.79" stroke="#4a4a4a" stroke-width="0.5"/>
<line x1="699.86" y1="437.06" x2="684.36" y2="455.76" stroke="#4a4a4a" stroke-width="0.5"/>
<ellipse cx="687.90" cy="458.70" rx="5.8" ry="5.6" fill="#9c9a98" stroke="#111" stroke-width="1.0"/>
<rect x="451.5" y="496.5" width="376" height="84" fill="#ffffff" stroke="none"/>
<line x1="451.5" y1="496.5" x2="827.5" y2="496.5" stroke="#444444" stroke-width="1.0"/>
<line x1="451.5" y1="514.5" x2="577.5" y2="514.5" stroke="#444444" stroke-width="1.0"/>
<line x1="451.5" y1="532.5" x2="827.5" y2="532.5" stroke="#444444" stroke-width="1.0"/>
<line x1="790.5" y1="551.5" x2="827.5" y2="551.5" stroke="#444444" stroke-width="1.0"/>
<line x1="451.5" y1="568.5" x2="827.5" y2="568.5" stroke="#444444" stroke-width="1.0"/>
<line x1="451.5" y1="496.5" x2="451.5" y2="580.5" stroke="#444444" stroke-width="1.0"/>
<line x1="493.5" y1="496.5" x2="493.5" y2="532.5" stroke="#444444" stroke-width="1.0"/>
<line x1="535.5" y1="496.5" x2="535.5" y2="532.5" stroke="#444444" stroke-width="1.0"/>
<line x1="577.5" y1="496.5" x2="577.5" y2="580.5" stroke="#444444" stroke-width="1.0"/>
<line x1="790.5" y1="532.5" x2="790.5" y2="568.5" stroke="#444444" stroke-width="1.0"/>
<line x1="702.5" y1="568.5" x2="702.5" y2="580.5" stroke="#444444" stroke-width="1.0"/>
<line x1="827.5" y1="496.5" x2="827.5" y2="580.5" stroke="#6a6a6a" stroke-width="1.0"/>
<line x1="451.5" y1="580.5" x2="827.5" y2="580.5" stroke="#6a6a6a" stroke-width="1.0"/>
<text x="473.2" y="508.6" font-size="6" text-anchor="middle" fill="#333" textLength="16.0" lengthAdjust="spacingAndGlyphs" >Name</text>
<text x="514.8" y="508.6" font-size="6" text-anchor="middle" fill="#333" textLength="21.9" lengthAdjust="spacingAndGlyphs" >Signatur</text>
<text x="556.5" y="508.6" font-size="6" text-anchor="middle" fill="#333" textLength="18.7" lengthAdjust="spacingAndGlyphs" >Datum</text>
<text x="473.2" y="525.9" font-size="6" text-anchor="middle" fill="#333" textLength="24.4" lengthAdjust="spacingAndGlyphs" >Ch. H&#228;fig</text>
<text x="514.8" y="525.9" font-size="6" text-anchor="middle" fill="#333" textLength="8.1" lengthAdjust="spacingAndGlyphs" >CH</text>
<text x="556.4" y="525.9" font-size="6" text-anchor="middle" fill="#333" textLength="27.1" lengthAdjust="spacingAndGlyphs" >24.03.2020</text>
<text x="583.6" y="508.3" font-size="6" text-anchor="start" fill="#333" textLength="37.4" lengthAdjust="spacingAndGlyphs" >Artikelnummer</text>
<text x="706.6" y="508.2" font-size="6" text-anchor="start" fill="#333" textLength="95.6" lengthAdjust="spacingAndGlyphs" >Oberfl&#228;che:  Geschliffen Korn 240</text>
<text x="583.1" y="525.8" font-size="11.6" text-anchor="start" fill="#1a1a1a" textLength="51.7" lengthAdjust="spacingAndGlyphs" >1600-V4A</text>
<text x="460.9" y="543.1" font-size="6" text-anchor="start" fill="#333" textLength="25.6" lengthAdjust="spacingAndGlyphs" >Werkstoff:</text>
<text x="460.9" y="557.0" font-size="6" text-anchor="start" fill="#333" textLength="78.5" lengthAdjust="spacingAndGlyphs" >1.4401/04 (X5CrNiMo17-12-2)</text>
<text x="582.1" y="539.6" font-size="6" text-anchor="start" fill="#333" textLength="24.2" lengthAdjust="spacingAndGlyphs" >Hersteller</text>
<text x="460.3" y="577.1" font-size="6" text-anchor="start" fill="#333" textLength="46.6" lengthAdjust="spacingAndGlyphs" >Gewicht 0,070 kg</text>
<text x="583.0" y="577.1" font-size="6" text-anchor="start" fill="#333" textLength="35.6" lengthAdjust="spacingAndGlyphs" >Massstab: 1:1</text>
<text x="632.4" y="577.1" font-size="6" text-anchor="start" fill="#333" textLength="24.1" lengthAdjust="spacingAndGlyphs" >Version: 1</text>
<text x="706.6" y="577.1" font-size="6" text-anchor="start" fill="#333" textLength="32.4" lengthAdjust="spacingAndGlyphs" >Blatt 1 von 5</text>
<text x="794.8" y="544.6" font-size="6" text-anchor="start" fill="#333" textLength="29.6" lengthAdjust="spacingAndGlyphs" >Blattformat</text>
<text x="809.4" y="562.9" font-size="10.5" text-anchor="middle" fill="#1a1a1a" textLength="13.0" lengthAdjust="spacingAndGlyphs" >A4</text>
<path d="M636.8,561.3 L640.0,561.3 Q645.9,561.3 645.9,553.5 L645.9,539.6 L635.6,539.6 Q628.6,539.6 628.6,547.5 L628.6,561.2 L634.2,561.2" fill="none" stroke="#16507d" stroke-width="1.7" stroke-linejoin="round"/>
<path d="M634.0,561.2 L634.0,548.6 Q634.0,543.7 639.0,543.7 L641.8,543.7 M634.0,552.7 L641.6,552.7" fill="none" stroke="#16507d" stroke-width="2.3"/>
<text x="651.9" y="554.3" font-size="15" text-anchor="start" fill="#1f4d73" textLength="66.2" lengthAdjust="spacingAndGlyphs" >Feldmann</text>
<text x="652.6" y="558.8" font-size="2.9" text-anchor="start" fill="#2f6892" textLength="65.2" lengthAdjust="spacingAndGlyphs" >EDELSTAHL &#183; HOLZHANDLAUF &#183; SCHMIEDEEISEN</text>
</svg>
</body></html>
